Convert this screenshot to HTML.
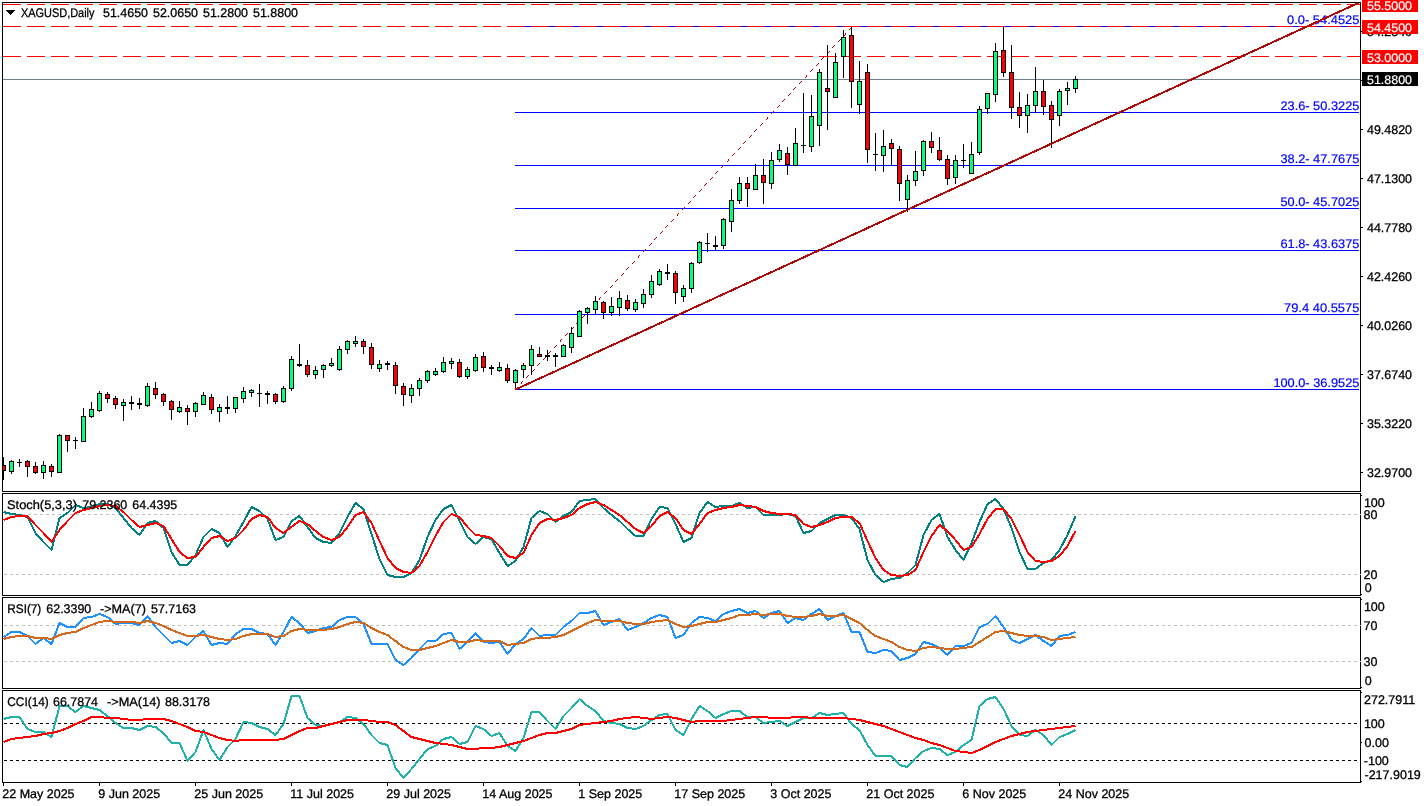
<!DOCTYPE html>
<html lang="en"><head><meta charset="utf-8"><title>XAGUSD Daily</title>
<style>html,body{margin:0;padding:0;background:#fff;overflow:hidden}svg{display:block}</style></head>
<body>
<svg width="1424" height="806" viewBox="0 0 1424 806" shape-rendering="crispEdges" font-family="Liberation Sans, Arial, sans-serif" font-size="12.5" text-rendering="geometricPrecision" stroke-width="0.2">
<defs><clipPath id="mainclip"><rect x="3" y="3" width="1357" height="488"/></clipPath></defs>
<rect x="0" y="0" width="1424" height="806" fill="#fff"/>
<rect x="2" y="2" width="1359" height="1" fill="#000"/>
<rect x="2" y="491" width="1359" height="1" fill="#000"/>
<rect x="2" y="2" width="1" height="490" fill="#000"/>
<rect x="1360" y="2" width="1" height="490" fill="#000"/>
<rect x="2" y="493" width="1359" height="1" fill="#000"/>
<rect x="2" y="595" width="1359" height="1" fill="#000"/>
<rect x="2" y="493" width="1" height="103" fill="#000"/>
<rect x="1360" y="493" width="1" height="103" fill="#000"/>
<rect x="2" y="597" width="1359" height="1" fill="#000"/>
<rect x="2" y="688" width="1359" height="1" fill="#000"/>
<rect x="2" y="597" width="1" height="92" fill="#000"/>
<rect x="1360" y="597" width="1" height="92" fill="#000"/>
<rect x="2" y="690" width="1359" height="1" fill="#000"/>
<rect x="2" y="782" width="1359" height="1" fill="#000"/>
<rect x="2" y="690" width="1" height="93" fill="#000"/>
<rect x="1360" y="690" width="1" height="93" fill="#000"/>
<rect x="3" y="79" width="1357" height="1" fill="#708090"/>
<rect x="515" y="26" width="844" height="1" fill="#0000ff"/>
<rect x="515" y="112" width="844" height="1" fill="#0000ff"/>
<rect x="515" y="165" width="844" height="1" fill="#0000ff"/>
<rect x="515" y="208" width="844" height="1" fill="#0000ff"/>
<rect x="515" y="250" width="844" height="1" fill="#0000ff"/>
<rect x="515" y="314" width="844" height="1" fill="#0000ff"/>
<rect x="515" y="389" width="844" height="1" fill="#0000ff"/>
<rect x="3" y="4" width="18" height="1" fill="#ff0000"/>
<rect x="27" y="4" width="18" height="1" fill="#ff0000"/>
<rect x="51" y="4" width="18" height="1" fill="#ff0000"/>
<rect x="75" y="4" width="18" height="1" fill="#ff0000"/>
<rect x="99" y="4" width="18" height="1" fill="#ff0000"/>
<rect x="123" y="4" width="18" height="1" fill="#ff0000"/>
<rect x="147" y="4" width="18" height="1" fill="#ff0000"/>
<rect x="171" y="4" width="18" height="1" fill="#ff0000"/>
<rect x="195" y="4" width="18" height="1" fill="#ff0000"/>
<rect x="219" y="4" width="18" height="1" fill="#ff0000"/>
<rect x="243" y="4" width="18" height="1" fill="#ff0000"/>
<rect x="267" y="4" width="18" height="1" fill="#ff0000"/>
<rect x="291" y="4" width="18" height="1" fill="#ff0000"/>
<rect x="315" y="4" width="18" height="1" fill="#ff0000"/>
<rect x="339" y="4" width="18" height="1" fill="#ff0000"/>
<rect x="363" y="4" width="18" height="1" fill="#ff0000"/>
<rect x="387" y="4" width="18" height="1" fill="#ff0000"/>
<rect x="411" y="4" width="18" height="1" fill="#ff0000"/>
<rect x="435" y="4" width="18" height="1" fill="#ff0000"/>
<rect x="459" y="4" width="18" height="1" fill="#ff0000"/>
<rect x="483" y="4" width="18" height="1" fill="#ff0000"/>
<rect x="507" y="4" width="18" height="1" fill="#ff0000"/>
<rect x="531" y="4" width="18" height="1" fill="#ff0000"/>
<rect x="555" y="4" width="18" height="1" fill="#ff0000"/>
<rect x="579" y="4" width="18" height="1" fill="#ff0000"/>
<rect x="603" y="4" width="18" height="1" fill="#ff0000"/>
<rect x="627" y="4" width="18" height="1" fill="#ff0000"/>
<rect x="651" y="4" width="18" height="1" fill="#ff0000"/>
<rect x="675" y="4" width="18" height="1" fill="#ff0000"/>
<rect x="699" y="4" width="18" height="1" fill="#ff0000"/>
<rect x="723" y="4" width="18" height="1" fill="#ff0000"/>
<rect x="747" y="4" width="18" height="1" fill="#ff0000"/>
<rect x="771" y="4" width="18" height="1" fill="#ff0000"/>
<rect x="795" y="4" width="18" height="1" fill="#ff0000"/>
<rect x="819" y="4" width="18" height="1" fill="#ff0000"/>
<rect x="843" y="4" width="18" height="1" fill="#ff0000"/>
<rect x="867" y="4" width="18" height="1" fill="#ff0000"/>
<rect x="891" y="4" width="18" height="1" fill="#ff0000"/>
<rect x="915" y="4" width="18" height="1" fill="#ff0000"/>
<rect x="939" y="4" width="18" height="1" fill="#ff0000"/>
<rect x="963" y="4" width="18" height="1" fill="#ff0000"/>
<rect x="987" y="4" width="18" height="1" fill="#ff0000"/>
<rect x="1011" y="4" width="18" height="1" fill="#ff0000"/>
<rect x="1035" y="4" width="18" height="1" fill="#ff0000"/>
<rect x="1059" y="4" width="18" height="1" fill="#ff0000"/>
<rect x="1083" y="4" width="18" height="1" fill="#ff0000"/>
<rect x="1107" y="4" width="18" height="1" fill="#ff0000"/>
<rect x="1131" y="4" width="18" height="1" fill="#ff0000"/>
<rect x="1155" y="4" width="18" height="1" fill="#ff0000"/>
<rect x="1179" y="4" width="18" height="1" fill="#ff0000"/>
<rect x="1203" y="4" width="18" height="1" fill="#ff0000"/>
<rect x="1227" y="4" width="18" height="1" fill="#ff0000"/>
<rect x="1251" y="4" width="18" height="1" fill="#ff0000"/>
<rect x="1275" y="4" width="18" height="1" fill="#ff0000"/>
<rect x="1299" y="4" width="18" height="1" fill="#ff0000"/>
<rect x="1323" y="4" width="18" height="1" fill="#ff0000"/>
<rect x="1347" y="4" width="13" height="1" fill="#ff0000"/>
<rect x="3" y="26" width="18" height="1" fill="#ff0000"/>
<rect x="27" y="26" width="18" height="1" fill="#ff0000"/>
<rect x="51" y="26" width="18" height="1" fill="#ff0000"/>
<rect x="75" y="26" width="18" height="1" fill="#ff0000"/>
<rect x="99" y="26" width="18" height="1" fill="#ff0000"/>
<rect x="123" y="26" width="18" height="1" fill="#ff0000"/>
<rect x="147" y="26" width="18" height="1" fill="#ff0000"/>
<rect x="171" y="26" width="18" height="1" fill="#ff0000"/>
<rect x="195" y="26" width="18" height="1" fill="#ff0000"/>
<rect x="219" y="26" width="18" height="1" fill="#ff0000"/>
<rect x="243" y="26" width="18" height="1" fill="#ff0000"/>
<rect x="267" y="26" width="18" height="1" fill="#ff0000"/>
<rect x="291" y="26" width="18" height="1" fill="#ff0000"/>
<rect x="315" y="26" width="18" height="1" fill="#ff0000"/>
<rect x="339" y="26" width="18" height="1" fill="#ff0000"/>
<rect x="363" y="26" width="18" height="1" fill="#ff0000"/>
<rect x="387" y="26" width="18" height="1" fill="#ff0000"/>
<rect x="411" y="26" width="18" height="1" fill="#ff0000"/>
<rect x="435" y="26" width="18" height="1" fill="#ff0000"/>
<rect x="459" y="26" width="18" height="1" fill="#ff0000"/>
<rect x="483" y="26" width="18" height="1" fill="#ff0000"/>
<rect x="507" y="26" width="18" height="1" fill="#ff0000"/>
<rect x="531" y="26" width="18" height="1" fill="#ff0000"/>
<rect x="555" y="26" width="18" height="1" fill="#ff0000"/>
<rect x="579" y="26" width="18" height="1" fill="#ff0000"/>
<rect x="603" y="26" width="18" height="1" fill="#ff0000"/>
<rect x="627" y="26" width="18" height="1" fill="#ff0000"/>
<rect x="651" y="26" width="18" height="1" fill="#ff0000"/>
<rect x="675" y="26" width="18" height="1" fill="#ff0000"/>
<rect x="699" y="26" width="18" height="1" fill="#ff0000"/>
<rect x="723" y="26" width="18" height="1" fill="#ff0000"/>
<rect x="747" y="26" width="18" height="1" fill="#ff0000"/>
<rect x="771" y="26" width="18" height="1" fill="#ff0000"/>
<rect x="795" y="26" width="18" height="1" fill="#ff0000"/>
<rect x="819" y="26" width="18" height="1" fill="#ff0000"/>
<rect x="843" y="26" width="18" height="1" fill="#ff0000"/>
<rect x="867" y="26" width="18" height="1" fill="#ff0000"/>
<rect x="891" y="26" width="18" height="1" fill="#ff0000"/>
<rect x="915" y="26" width="18" height="1" fill="#ff0000"/>
<rect x="939" y="26" width="18" height="1" fill="#ff0000"/>
<rect x="963" y="26" width="18" height="1" fill="#ff0000"/>
<rect x="987" y="26" width="18" height="1" fill="#ff0000"/>
<rect x="1011" y="26" width="18" height="1" fill="#ff0000"/>
<rect x="1035" y="26" width="18" height="1" fill="#ff0000"/>
<rect x="1059" y="26" width="18" height="1" fill="#ff0000"/>
<rect x="1083" y="26" width="18" height="1" fill="#ff0000"/>
<rect x="1107" y="26" width="18" height="1" fill="#ff0000"/>
<rect x="1131" y="26" width="18" height="1" fill="#ff0000"/>
<rect x="1155" y="26" width="18" height="1" fill="#ff0000"/>
<rect x="1179" y="26" width="18" height="1" fill="#ff0000"/>
<rect x="1203" y="26" width="18" height="1" fill="#ff0000"/>
<rect x="1227" y="26" width="18" height="1" fill="#ff0000"/>
<rect x="1251" y="26" width="18" height="1" fill="#ff0000"/>
<rect x="1275" y="26" width="18" height="1" fill="#ff0000"/>
<rect x="1299" y="26" width="18" height="1" fill="#ff0000"/>
<rect x="1323" y="26" width="18" height="1" fill="#ff0000"/>
<rect x="1347" y="26" width="13" height="1" fill="#ff0000"/>
<rect x="3" y="56" width="18" height="1" fill="#ff0000"/>
<rect x="27" y="56" width="18" height="1" fill="#ff0000"/>
<rect x="51" y="56" width="18" height="1" fill="#ff0000"/>
<rect x="75" y="56" width="18" height="1" fill="#ff0000"/>
<rect x="99" y="56" width="18" height="1" fill="#ff0000"/>
<rect x="123" y="56" width="18" height="1" fill="#ff0000"/>
<rect x="147" y="56" width="18" height="1" fill="#ff0000"/>
<rect x="171" y="56" width="18" height="1" fill="#ff0000"/>
<rect x="195" y="56" width="18" height="1" fill="#ff0000"/>
<rect x="219" y="56" width="18" height="1" fill="#ff0000"/>
<rect x="243" y="56" width="18" height="1" fill="#ff0000"/>
<rect x="267" y="56" width="18" height="1" fill="#ff0000"/>
<rect x="291" y="56" width="18" height="1" fill="#ff0000"/>
<rect x="315" y="56" width="18" height="1" fill="#ff0000"/>
<rect x="339" y="56" width="18" height="1" fill="#ff0000"/>
<rect x="363" y="56" width="18" height="1" fill="#ff0000"/>
<rect x="387" y="56" width="18" height="1" fill="#ff0000"/>
<rect x="411" y="56" width="18" height="1" fill="#ff0000"/>
<rect x="435" y="56" width="18" height="1" fill="#ff0000"/>
<rect x="459" y="56" width="18" height="1" fill="#ff0000"/>
<rect x="483" y="56" width="18" height="1" fill="#ff0000"/>
<rect x="507" y="56" width="18" height="1" fill="#ff0000"/>
<rect x="531" y="56" width="18" height="1" fill="#ff0000"/>
<rect x="555" y="56" width="18" height="1" fill="#ff0000"/>
<rect x="579" y="56" width="18" height="1" fill="#ff0000"/>
<rect x="603" y="56" width="18" height="1" fill="#ff0000"/>
<rect x="627" y="56" width="18" height="1" fill="#ff0000"/>
<rect x="651" y="56" width="18" height="1" fill="#ff0000"/>
<rect x="675" y="56" width="18" height="1" fill="#ff0000"/>
<rect x="699" y="56" width="18" height="1" fill="#ff0000"/>
<rect x="723" y="56" width="18" height="1" fill="#ff0000"/>
<rect x="747" y="56" width="18" height="1" fill="#ff0000"/>
<rect x="771" y="56" width="18" height="1" fill="#ff0000"/>
<rect x="795" y="56" width="18" height="1" fill="#ff0000"/>
<rect x="819" y="56" width="18" height="1" fill="#ff0000"/>
<rect x="843" y="56" width="18" height="1" fill="#ff0000"/>
<rect x="867" y="56" width="18" height="1" fill="#ff0000"/>
<rect x="891" y="56" width="18" height="1" fill="#ff0000"/>
<rect x="915" y="56" width="18" height="1" fill="#ff0000"/>
<rect x="939" y="56" width="18" height="1" fill="#ff0000"/>
<rect x="963" y="56" width="18" height="1" fill="#ff0000"/>
<rect x="987" y="56" width="18" height="1" fill="#ff0000"/>
<rect x="1011" y="56" width="18" height="1" fill="#ff0000"/>
<rect x="1035" y="56" width="18" height="1" fill="#ff0000"/>
<rect x="1059" y="56" width="18" height="1" fill="#ff0000"/>
<rect x="1083" y="56" width="18" height="1" fill="#ff0000"/>
<rect x="1107" y="56" width="18" height="1" fill="#ff0000"/>
<rect x="1131" y="56" width="18" height="1" fill="#ff0000"/>
<rect x="1155" y="56" width="18" height="1" fill="#ff0000"/>
<rect x="1179" y="56" width="18" height="1" fill="#ff0000"/>
<rect x="1203" y="56" width="18" height="1" fill="#ff0000"/>
<rect x="1227" y="56" width="18" height="1" fill="#ff0000"/>
<rect x="1251" y="56" width="18" height="1" fill="#ff0000"/>
<rect x="1275" y="56" width="18" height="1" fill="#ff0000"/>
<rect x="1299" y="56" width="18" height="1" fill="#ff0000"/>
<rect x="1323" y="56" width="18" height="1" fill="#ff0000"/>
<rect x="1347" y="56" width="13" height="1" fill="#ff0000"/>
<rect x="516" y="388" width="1" height="1" fill="#b00808"/>
<rect x="517" y="387" width="1" height="1" fill="#b00808"/>
<rect x="521" y="383" width="1" height="1" fill="#b00808"/>
<rect x="521" y="382" width="1" height="1" fill="#b00808"/>
<rect x="522" y="381" width="1" height="1" fill="#b00808"/>
<rect x="526" y="377" width="1" height="1" fill="#b00808"/>
<rect x="527" y="376" width="1" height="1" fill="#b00808"/>
<rect x="528" y="375" width="1" height="1" fill="#b00808"/>
<rect x="532" y="371" width="1" height="1" fill="#b00808"/>
<rect x="533" y="370" width="1" height="1" fill="#b00808"/>
<rect x="534" y="369" width="1" height="1" fill="#b00808"/>
<rect x="537" y="365" width="1" height="1" fill="#b00808"/>
<rect x="538" y="364" width="1" height="1" fill="#b00808"/>
<rect x="539" y="363" width="1" height="1" fill="#b00808"/>
<rect x="543" y="359" width="1" height="1" fill="#b00808"/>
<rect x="544" y="358" width="1" height="1" fill="#b00808"/>
<rect x="545" y="357" width="1" height="1" fill="#b00808"/>
<rect x="548" y="353" width="1" height="1" fill="#b00808"/>
<rect x="549" y="352" width="1" height="1" fill="#b00808"/>
<rect x="550" y="351" width="1" height="1" fill="#b00808"/>
<rect x="554" y="347" width="1" height="1" fill="#b00808"/>
<rect x="555" y="346" width="1" height="1" fill="#b00808"/>
<rect x="556" y="345" width="1" height="1" fill="#b00808"/>
<rect x="560" y="341" width="1" height="1" fill="#b00808"/>
<rect x="560" y="340" width="1" height="1" fill="#b00808"/>
<rect x="561" y="339" width="1" height="1" fill="#b00808"/>
<rect x="565" y="335" width="1" height="1" fill="#b00808"/>
<rect x="566" y="334" width="1" height="1" fill="#b00808"/>
<rect x="567" y="333" width="1" height="1" fill="#b00808"/>
<rect x="571" y="329" width="1" height="1" fill="#b00808"/>
<rect x="572" y="328" width="1" height="1" fill="#b00808"/>
<rect x="573" y="327" width="1" height="1" fill="#b00808"/>
<rect x="576" y="323" width="1" height="1" fill="#b00808"/>
<rect x="577" y="322" width="1" height="1" fill="#b00808"/>
<rect x="578" y="321" width="1" height="1" fill="#b00808"/>
<rect x="582" y="317" width="1" height="1" fill="#b00808"/>
<rect x="583" y="316" width="1" height="1" fill="#b00808"/>
<rect x="584" y="315" width="1" height="1" fill="#b00808"/>
<rect x="587" y="311" width="1" height="1" fill="#b00808"/>
<rect x="588" y="310" width="1" height="1" fill="#b00808"/>
<rect x="589" y="309" width="1" height="1" fill="#b00808"/>
<rect x="593" y="305" width="1" height="1" fill="#b00808"/>
<rect x="594" y="304" width="1" height="1" fill="#b00808"/>
<rect x="595" y="303" width="1" height="1" fill="#b00808"/>
<rect x="599" y="299" width="1" height="1" fill="#b00808"/>
<rect x="599" y="298" width="1" height="1" fill="#b00808"/>
<rect x="600" y="297" width="1" height="1" fill="#b00808"/>
<rect x="604" y="293" width="1" height="1" fill="#b00808"/>
<rect x="605" y="292" width="1" height="1" fill="#b00808"/>
<rect x="606" y="291" width="1" height="1" fill="#b00808"/>
<rect x="610" y="287" width="1" height="1" fill="#b00808"/>
<rect x="611" y="286" width="1" height="1" fill="#b00808"/>
<rect x="612" y="285" width="1" height="1" fill="#b00808"/>
<rect x="615" y="281" width="1" height="1" fill="#b00808"/>
<rect x="616" y="280" width="1" height="1" fill="#b00808"/>
<rect x="617" y="279" width="1" height="1" fill="#b00808"/>
<rect x="621" y="275" width="1" height="1" fill="#b00808"/>
<rect x="622" y="274" width="1" height="1" fill="#b00808"/>
<rect x="623" y="273" width="1" height="1" fill="#b00808"/>
<rect x="626" y="269" width="1" height="1" fill="#b00808"/>
<rect x="627" y="268" width="1" height="1" fill="#b00808"/>
<rect x="628" y="267" width="1" height="1" fill="#b00808"/>
<rect x="632" y="263" width="1" height="1" fill="#b00808"/>
<rect x="633" y="262" width="1" height="1" fill="#b00808"/>
<rect x="634" y="261" width="1" height="1" fill="#b00808"/>
<rect x="638" y="257" width="1" height="1" fill="#b00808"/>
<rect x="638" y="256" width="1" height="1" fill="#b00808"/>
<rect x="639" y="255" width="1" height="1" fill="#b00808"/>
<rect x="643" y="251" width="1" height="1" fill="#b00808"/>
<rect x="644" y="250" width="1" height="1" fill="#b00808"/>
<rect x="645" y="249" width="1" height="1" fill="#b00808"/>
<rect x="649" y="245" width="1" height="1" fill="#b00808"/>
<rect x="650" y="244" width="1" height="1" fill="#b00808"/>
<rect x="651" y="243" width="1" height="1" fill="#b00808"/>
<rect x="654" y="239" width="1" height="1" fill="#b00808"/>
<rect x="655" y="238" width="1" height="1" fill="#b00808"/>
<rect x="656" y="237" width="1" height="1" fill="#b00808"/>
<rect x="660" y="233" width="1" height="1" fill="#b00808"/>
<rect x="661" y="232" width="1" height="1" fill="#b00808"/>
<rect x="662" y="231" width="1" height="1" fill="#b00808"/>
<rect x="665" y="227" width="1" height="1" fill="#b00808"/>
<rect x="666" y="226" width="1" height="1" fill="#b00808"/>
<rect x="667" y="225" width="1" height="1" fill="#b00808"/>
<rect x="671" y="221" width="1" height="1" fill="#b00808"/>
<rect x="672" y="220" width="1" height="1" fill="#b00808"/>
<rect x="673" y="219" width="1" height="1" fill="#b00808"/>
<rect x="677" y="215" width="1" height="1" fill="#b00808"/>
<rect x="677" y="214" width="1" height="1" fill="#b00808"/>
<rect x="678" y="213" width="1" height="1" fill="#b00808"/>
<rect x="682" y="209" width="1" height="1" fill="#b00808"/>
<rect x="683" y="208" width="1" height="1" fill="#b00808"/>
<rect x="684" y="207" width="1" height="1" fill="#b00808"/>
<rect x="688" y="203" width="1" height="1" fill="#b00808"/>
<rect x="689" y="202" width="1" height="1" fill="#b00808"/>
<rect x="690" y="201" width="1" height="1" fill="#b00808"/>
<rect x="693" y="197" width="1" height="1" fill="#b00808"/>
<rect x="694" y="196" width="1" height="1" fill="#b00808"/>
<rect x="695" y="195" width="1" height="1" fill="#b00808"/>
<rect x="699" y="191" width="1" height="1" fill="#b00808"/>
<rect x="700" y="190" width="1" height="1" fill="#b00808"/>
<rect x="701" y="189" width="1" height="1" fill="#b00808"/>
<rect x="704" y="185" width="1" height="1" fill="#b00808"/>
<rect x="705" y="184" width="1" height="1" fill="#b00808"/>
<rect x="706" y="183" width="1" height="1" fill="#b00808"/>
<rect x="710" y="179" width="1" height="1" fill="#b00808"/>
<rect x="711" y="178" width="1" height="1" fill="#b00808"/>
<rect x="712" y="177" width="1" height="1" fill="#b00808"/>
<rect x="715" y="173" width="1" height="1" fill="#b00808"/>
<rect x="716" y="172" width="1" height="1" fill="#b00808"/>
<rect x="717" y="171" width="1" height="1" fill="#b00808"/>
<rect x="721" y="167" width="1" height="1" fill="#b00808"/>
<rect x="722" y="166" width="1" height="1" fill="#b00808"/>
<rect x="723" y="165" width="1" height="1" fill="#b00808"/>
<rect x="727" y="161" width="1" height="1" fill="#b00808"/>
<rect x="728" y="160" width="1" height="1" fill="#b00808"/>
<rect x="728" y="159" width="1" height="1" fill="#b00808"/>
<rect x="732" y="155" width="1" height="1" fill="#b00808"/>
<rect x="733" y="154" width="1" height="1" fill="#b00808"/>
<rect x="734" y="153" width="1" height="1" fill="#b00808"/>
<rect x="738" y="149" width="1" height="1" fill="#b00808"/>
<rect x="739" y="148" width="1" height="1" fill="#b00808"/>
<rect x="740" y="147" width="1" height="1" fill="#b00808"/>
<rect x="743" y="143" width="1" height="1" fill="#b00808"/>
<rect x="744" y="142" width="1" height="1" fill="#b00808"/>
<rect x="745" y="141" width="1" height="1" fill="#b00808"/>
<rect x="749" y="137" width="1" height="1" fill="#b00808"/>
<rect x="750" y="136" width="1" height="1" fill="#b00808"/>
<rect x="751" y="135" width="1" height="1" fill="#b00808"/>
<rect x="754" y="131" width="1" height="1" fill="#b00808"/>
<rect x="755" y="130" width="1" height="1" fill="#b00808"/>
<rect x="756" y="129" width="1" height="1" fill="#b00808"/>
<rect x="760" y="125" width="1" height="1" fill="#b00808"/>
<rect x="761" y="124" width="1" height="1" fill="#b00808"/>
<rect x="762" y="123" width="1" height="1" fill="#b00808"/>
<rect x="766" y="119" width="1" height="1" fill="#b00808"/>
<rect x="767" y="118" width="1" height="1" fill="#b00808"/>
<rect x="767" y="117" width="1" height="1" fill="#b00808"/>
<rect x="771" y="113" width="1" height="1" fill="#b00808"/>
<rect x="772" y="112" width="1" height="1" fill="#b00808"/>
<rect x="773" y="111" width="1" height="1" fill="#b00808"/>
<rect x="777" y="107" width="1" height="1" fill="#b00808"/>
<rect x="778" y="106" width="1" height="1" fill="#b00808"/>
<rect x="779" y="105" width="1" height="1" fill="#b00808"/>
<rect x="782" y="101" width="1" height="1" fill="#b00808"/>
<rect x="783" y="100" width="1" height="1" fill="#b00808"/>
<rect x="784" y="99" width="1" height="1" fill="#b00808"/>
<rect x="788" y="95" width="1" height="1" fill="#b00808"/>
<rect x="789" y="94" width="1" height="1" fill="#b00808"/>
<rect x="790" y="93" width="1" height="1" fill="#b00808"/>
<rect x="793" y="89" width="1" height="1" fill="#b00808"/>
<rect x="794" y="88" width="1" height="1" fill="#b00808"/>
<rect x="795" y="87" width="1" height="1" fill="#b00808"/>
<rect x="799" y="83" width="1" height="1" fill="#b00808"/>
<rect x="800" y="82" width="1" height="1" fill="#b00808"/>
<rect x="801" y="81" width="1" height="1" fill="#b00808"/>
<rect x="805" y="77" width="1" height="1" fill="#b00808"/>
<rect x="806" y="76" width="1" height="1" fill="#b00808"/>
<rect x="806" y="75" width="1" height="1" fill="#b00808"/>
<rect x="810" y="71" width="1" height="1" fill="#b00808"/>
<rect x="811" y="70" width="1" height="1" fill="#b00808"/>
<rect x="812" y="69" width="1" height="1" fill="#b00808"/>
<rect x="816" y="65" width="1" height="1" fill="#b00808"/>
<rect x="817" y="64" width="1" height="1" fill="#b00808"/>
<rect x="818" y="63" width="1" height="1" fill="#b00808"/>
<rect x="821" y="59" width="1" height="1" fill="#b00808"/>
<rect x="822" y="58" width="1" height="1" fill="#b00808"/>
<rect x="823" y="57" width="1" height="1" fill="#b00808"/>
<rect x="827" y="53" width="1" height="1" fill="#b00808"/>
<rect x="828" y="52" width="1" height="1" fill="#b00808"/>
<rect x="829" y="51" width="1" height="1" fill="#b00808"/>
<rect x="832" y="47" width="1" height="1" fill="#b00808"/>
<rect x="833" y="46" width="1" height="1" fill="#b00808"/>
<rect x="834" y="45" width="1" height="1" fill="#b00808"/>
<rect x="838" y="41" width="1" height="1" fill="#b00808"/>
<rect x="839" y="40" width="1" height="1" fill="#b00808"/>
<rect x="840" y="39" width="1" height="1" fill="#b00808"/>
<rect x="844" y="35" width="1" height="1" fill="#b00808"/>
<rect x="845" y="34" width="1" height="1" fill="#b00808"/>
<rect x="845" y="33" width="1" height="1" fill="#b00808"/>
<rect x="849" y="29" width="1" height="1" fill="#b00808"/>
<rect x="850" y="28" width="1" height="1" fill="#b00808"/>
<rect x="851" y="27" width="1" height="1" fill="#b00808"/>
<g id="candles" clip-path="url(#mainclip)">
<rect x="3" y="457" width="1" height="23" fill="#000"/>
<rect x="1" y="465" width="5" height="6" fill="#000"/>
<rect x="2" y="466" width="3" height="4" fill="#ff0000"/>
<rect x="11" y="460" width="1" height="14" fill="#000"/>
<rect x="9" y="461" width="5" height="11" fill="#000"/>
<rect x="10" y="462" width="3" height="9" fill="#00ff7f"/>
<rect x="19" y="459" width="1" height="8" fill="#000"/>
<rect x="17" y="462" width="5" height="1" fill="#000"/>
<rect x="27" y="460" width="1" height="17" fill="#000"/>
<rect x="25" y="461" width="5" height="6" fill="#000"/>
<rect x="26" y="462" width="3" height="4" fill="#ff0000"/>
<rect x="35" y="462" width="1" height="12" fill="#000"/>
<rect x="33" y="466" width="5" height="7" fill="#000"/>
<rect x="34" y="467" width="3" height="5" fill="#ff0000"/>
<rect x="43" y="461" width="1" height="18" fill="#000"/>
<rect x="41" y="465" width="5" height="8" fill="#000"/>
<rect x="42" y="466" width="3" height="6" fill="#00ff7f"/>
<rect x="51" y="464" width="1" height="13" fill="#000"/>
<rect x="49" y="466" width="5" height="6" fill="#000"/>
<rect x="50" y="467" width="3" height="4" fill="#ff0000"/>
<rect x="59" y="434" width="1" height="39" fill="#000"/>
<rect x="57" y="435" width="5" height="38" fill="#000"/>
<rect x="58" y="436" width="3" height="36" fill="#00ff7f"/>
<rect x="67" y="435" width="1" height="17" fill="#000"/>
<rect x="65" y="435" width="5" height="6" fill="#000"/>
<rect x="66" y="436" width="3" height="4" fill="#ff0000"/>
<rect x="75" y="437" width="1" height="12" fill="#000"/>
<rect x="73" y="440" width="5" height="1" fill="#000"/>
<rect x="83" y="408" width="1" height="34" fill="#000"/>
<rect x="81" y="416" width="5" height="26" fill="#000"/>
<rect x="82" y="417" width="3" height="24" fill="#00ff7f"/>
<rect x="91" y="402" width="1" height="16" fill="#000"/>
<rect x="89" y="409" width="5" height="8" fill="#000"/>
<rect x="90" y="410" width="3" height="6" fill="#00ff7f"/>
<rect x="99" y="391" width="1" height="21" fill="#000"/>
<rect x="97" y="393" width="5" height="18" fill="#000"/>
<rect x="98" y="394" width="3" height="16" fill="#00ff7f"/>
<rect x="107" y="392" width="1" height="11" fill="#000"/>
<rect x="105" y="394" width="5" height="5" fill="#000"/>
<rect x="106" y="395" width="3" height="3" fill="#ff0000"/>
<rect x="115" y="396" width="1" height="13" fill="#000"/>
<rect x="113" y="398" width="5" height="7" fill="#000"/>
<rect x="114" y="399" width="3" height="5" fill="#ff0000"/>
<rect x="123" y="399" width="1" height="22" fill="#000"/>
<rect x="121" y="402" width="5" height="4" fill="#000"/>
<rect x="122" y="403" width="3" height="2" fill="#00ff7f"/>
<rect x="131" y="396" width="1" height="14" fill="#000"/>
<rect x="129" y="402" width="5" height="2" fill="#000"/>
<rect x="139" y="398" width="1" height="11" fill="#000"/>
<rect x="137" y="403" width="5" height="2" fill="#000"/>
<rect x="147" y="383" width="1" height="24" fill="#000"/>
<rect x="145" y="386" width="5" height="20" fill="#000"/>
<rect x="146" y="387" width="3" height="18" fill="#00ff7f"/>
<rect x="155" y="382" width="1" height="17" fill="#000"/>
<rect x="153" y="388" width="5" height="7" fill="#000"/>
<rect x="154" y="389" width="3" height="5" fill="#ff0000"/>
<rect x="163" y="393" width="1" height="13" fill="#000"/>
<rect x="161" y="394" width="5" height="8" fill="#000"/>
<rect x="162" y="395" width="3" height="6" fill="#ff0000"/>
<rect x="171" y="400" width="1" height="20" fill="#000"/>
<rect x="169" y="401" width="5" height="9" fill="#000"/>
<rect x="170" y="402" width="3" height="7" fill="#ff0000"/>
<rect x="179" y="401" width="1" height="12" fill="#000"/>
<rect x="177" y="407" width="5" height="5" fill="#000"/>
<rect x="178" y="408" width="3" height="3" fill="#00ff7f"/>
<rect x="187" y="405" width="1" height="20" fill="#000"/>
<rect x="185" y="408" width="5" height="4" fill="#000"/>
<rect x="186" y="409" width="3" height="2" fill="#ff0000"/>
<rect x="195" y="402" width="1" height="15" fill="#000"/>
<rect x="193" y="403" width="5" height="9" fill="#000"/>
<rect x="194" y="404" width="3" height="7" fill="#00ff7f"/>
<rect x="203" y="392" width="1" height="13" fill="#000"/>
<rect x="201" y="395" width="5" height="10" fill="#000"/>
<rect x="202" y="396" width="3" height="8" fill="#00ff7f"/>
<rect x="211" y="394" width="1" height="20" fill="#000"/>
<rect x="209" y="397" width="5" height="13" fill="#000"/>
<rect x="210" y="398" width="3" height="11" fill="#ff0000"/>
<rect x="219" y="404" width="1" height="18" fill="#000"/>
<rect x="217" y="407" width="5" height="5" fill="#000"/>
<rect x="218" y="408" width="3" height="3" fill="#00ff7f"/>
<rect x="227" y="396" width="1" height="18" fill="#000"/>
<rect x="225" y="407" width="5" height="2" fill="#000"/>
<rect x="235" y="397" width="1" height="16" fill="#000"/>
<rect x="233" y="397" width="5" height="12" fill="#000"/>
<rect x="234" y="398" width="3" height="10" fill="#00ff7f"/>
<rect x="243" y="387" width="1" height="16" fill="#000"/>
<rect x="241" y="391" width="5" height="8" fill="#000"/>
<rect x="242" y="392" width="3" height="6" fill="#00ff7f"/>
<rect x="251" y="389" width="1" height="8" fill="#000"/>
<rect x="249" y="390" width="5" height="3" fill="#000"/>
<rect x="250" y="391" width="3" height="1" fill="#00ff7f"/>
<rect x="259" y="384" width="1" height="23" fill="#000"/>
<rect x="257" y="393" width="5" height="1" fill="#000"/>
<rect x="267" y="391" width="1" height="13" fill="#000"/>
<rect x="265" y="393" width="5" height="2" fill="#000"/>
<rect x="275" y="393" width="1" height="11" fill="#000"/>
<rect x="273" y="394" width="5" height="8" fill="#000"/>
<rect x="274" y="395" width="3" height="6" fill="#ff0000"/>
<rect x="283" y="386" width="1" height="17" fill="#000"/>
<rect x="281" y="388" width="5" height="14" fill="#000"/>
<rect x="282" y="389" width="3" height="12" fill="#00ff7f"/>
<rect x="291" y="356" width="1" height="35" fill="#000"/>
<rect x="289" y="359" width="5" height="30" fill="#000"/>
<rect x="290" y="360" width="3" height="28" fill="#00ff7f"/>
<rect x="299" y="344" width="1" height="23" fill="#000"/>
<rect x="297" y="364" width="5" height="2" fill="#000"/>
<rect x="307" y="360" width="1" height="17" fill="#000"/>
<rect x="305" y="365" width="5" height="10" fill="#000"/>
<rect x="306" y="366" width="3" height="8" fill="#ff0000"/>
<rect x="315" y="366" width="1" height="13" fill="#000"/>
<rect x="313" y="370" width="5" height="5" fill="#000"/>
<rect x="314" y="371" width="3" height="3" fill="#00ff7f"/>
<rect x="323" y="364" width="1" height="14" fill="#000"/>
<rect x="321" y="365" width="5" height="5" fill="#000"/>
<rect x="322" y="366" width="3" height="3" fill="#00ff7f"/>
<rect x="331" y="358" width="1" height="9" fill="#000"/>
<rect x="329" y="363" width="5" height="3" fill="#000"/>
<rect x="330" y="364" width="3" height="1" fill="#00ff7f"/>
<rect x="339" y="346" width="1" height="25" fill="#000"/>
<rect x="337" y="349" width="5" height="21" fill="#000"/>
<rect x="338" y="350" width="3" height="19" fill="#00ff7f"/>
<rect x="347" y="340" width="1" height="14" fill="#000"/>
<rect x="345" y="341" width="5" height="9" fill="#000"/>
<rect x="346" y="342" width="3" height="7" fill="#00ff7f"/>
<rect x="355" y="336" width="1" height="11" fill="#000"/>
<rect x="353" y="341" width="5" height="3" fill="#000"/>
<rect x="354" y="342" width="3" height="1" fill="#00ff7f"/>
<rect x="363" y="339" width="1" height="15" fill="#000"/>
<rect x="361" y="341" width="5" height="6" fill="#000"/>
<rect x="362" y="342" width="3" height="4" fill="#ff0000"/>
<rect x="371" y="343" width="1" height="26" fill="#000"/>
<rect x="369" y="347" width="5" height="18" fill="#000"/>
<rect x="370" y="348" width="3" height="16" fill="#ff0000"/>
<rect x="379" y="360" width="1" height="12" fill="#000"/>
<rect x="377" y="364" width="5" height="5" fill="#000"/>
<rect x="378" y="365" width="3" height="3" fill="#00ff7f"/>
<rect x="387" y="361" width="1" height="9" fill="#000"/>
<rect x="385" y="363" width="5" height="2" fill="#000"/>
<rect x="395" y="362" width="1" height="32" fill="#000"/>
<rect x="393" y="365" width="5" height="21" fill="#000"/>
<rect x="394" y="366" width="3" height="19" fill="#ff0000"/>
<rect x="403" y="383" width="1" height="23" fill="#000"/>
<rect x="401" y="386" width="5" height="9" fill="#000"/>
<rect x="402" y="387" width="3" height="7" fill="#ff0000"/>
<rect x="411" y="384" width="1" height="19" fill="#000"/>
<rect x="409" y="388" width="5" height="8" fill="#000"/>
<rect x="410" y="389" width="3" height="6" fill="#00ff7f"/>
<rect x="419" y="378" width="1" height="18" fill="#000"/>
<rect x="417" y="380" width="5" height="9" fill="#000"/>
<rect x="418" y="381" width="3" height="7" fill="#00ff7f"/>
<rect x="427" y="370" width="1" height="13" fill="#000"/>
<rect x="425" y="371" width="5" height="10" fill="#000"/>
<rect x="426" y="372" width="3" height="8" fill="#00ff7f"/>
<rect x="435" y="368" width="1" height="8" fill="#000"/>
<rect x="433" y="371" width="5" height="4" fill="#000"/>
<rect x="434" y="372" width="3" height="2" fill="#00ff7f"/>
<rect x="443" y="357" width="1" height="16" fill="#000"/>
<rect x="441" y="362" width="5" height="10" fill="#000"/>
<rect x="442" y="363" width="3" height="8" fill="#00ff7f"/>
<rect x="451" y="358" width="1" height="11" fill="#000"/>
<rect x="449" y="361" width="5" height="3" fill="#000"/>
<rect x="450" y="362" width="3" height="1" fill="#00ff7f"/>
<rect x="459" y="359" width="1" height="19" fill="#000"/>
<rect x="457" y="362" width="5" height="15" fill="#000"/>
<rect x="458" y="363" width="3" height="13" fill="#ff0000"/>
<rect x="467" y="367" width="1" height="12" fill="#000"/>
<rect x="465" y="369" width="5" height="8" fill="#000"/>
<rect x="466" y="370" width="3" height="6" fill="#00ff7f"/>
<rect x="475" y="354" width="1" height="18" fill="#000"/>
<rect x="473" y="357" width="5" height="14" fill="#000"/>
<rect x="474" y="358" width="3" height="12" fill="#00ff7f"/>
<rect x="483" y="352" width="1" height="20" fill="#000"/>
<rect x="481" y="356" width="5" height="12" fill="#000"/>
<rect x="482" y="357" width="3" height="10" fill="#ff0000"/>
<rect x="491" y="365" width="1" height="10" fill="#000"/>
<rect x="489" y="367" width="5" height="2" fill="#000"/>
<rect x="499" y="362" width="1" height="10" fill="#000"/>
<rect x="497" y="367" width="5" height="4" fill="#000"/>
<rect x="498" y="368" width="3" height="2" fill="#00ff7f"/>
<rect x="507" y="364" width="1" height="19" fill="#000"/>
<rect x="505" y="368" width="5" height="13" fill="#000"/>
<rect x="506" y="369" width="3" height="11" fill="#ff0000"/>
<rect x="515" y="369" width="1" height="21" fill="#000"/>
<rect x="513" y="370" width="5" height="13" fill="#000"/>
<rect x="514" y="371" width="3" height="11" fill="#00ff7f"/>
<rect x="523" y="363" width="1" height="15" fill="#000"/>
<rect x="521" y="365" width="5" height="5" fill="#000"/>
<rect x="522" y="366" width="3" height="3" fill="#00ff7f"/>
<rect x="531" y="345" width="1" height="30" fill="#000"/>
<rect x="529" y="349" width="5" height="17" fill="#000"/>
<rect x="530" y="350" width="3" height="15" fill="#00ff7f"/>
<rect x="539" y="347" width="1" height="10" fill="#000"/>
<rect x="537" y="354" width="5" height="3" fill="#000"/>
<rect x="538" y="355" width="3" height="1" fill="#ff0000"/>
<rect x="547" y="350" width="1" height="11" fill="#000"/>
<rect x="545" y="355" width="5" height="2" fill="#000"/>
<rect x="555" y="353" width="1" height="14" fill="#000"/>
<rect x="553" y="355" width="5" height="2" fill="#000"/>
<rect x="563" y="344" width="1" height="13" fill="#000"/>
<rect x="561" y="345" width="5" height="12" fill="#000"/>
<rect x="562" y="346" width="3" height="10" fill="#00ff7f"/>
<rect x="571" y="327" width="1" height="26" fill="#000"/>
<rect x="569" y="333" width="5" height="15" fill="#000"/>
<rect x="570" y="334" width="3" height="13" fill="#00ff7f"/>
<rect x="579" y="310" width="1" height="27" fill="#000"/>
<rect x="577" y="311" width="5" height="26" fill="#000"/>
<rect x="578" y="312" width="3" height="24" fill="#00ff7f"/>
<rect x="587" y="307" width="1" height="17" fill="#000"/>
<rect x="585" y="308" width="5" height="5" fill="#000"/>
<rect x="586" y="309" width="3" height="3" fill="#00ff7f"/>
<rect x="595" y="296" width="1" height="18" fill="#000"/>
<rect x="593" y="301" width="5" height="9" fill="#000"/>
<rect x="594" y="302" width="3" height="7" fill="#00ff7f"/>
<rect x="603" y="301" width="1" height="18" fill="#000"/>
<rect x="601" y="302" width="5" height="11" fill="#000"/>
<rect x="602" y="303" width="3" height="9" fill="#ff0000"/>
<rect x="611" y="297" width="1" height="19" fill="#000"/>
<rect x="609" y="306" width="5" height="7" fill="#000"/>
<rect x="610" y="307" width="3" height="5" fill="#00ff7f"/>
<rect x="619" y="291" width="1" height="25" fill="#000"/>
<rect x="617" y="298" width="5" height="10" fill="#000"/>
<rect x="618" y="299" width="3" height="8" fill="#00ff7f"/>
<rect x="627" y="295" width="1" height="16" fill="#000"/>
<rect x="625" y="300" width="5" height="9" fill="#000"/>
<rect x="626" y="301" width="3" height="7" fill="#ff0000"/>
<rect x="635" y="299" width="1" height="13" fill="#000"/>
<rect x="633" y="302" width="5" height="8" fill="#000"/>
<rect x="634" y="303" width="3" height="6" fill="#00ff7f"/>
<rect x="643" y="289" width="1" height="19" fill="#000"/>
<rect x="641" y="294" width="5" height="10" fill="#000"/>
<rect x="642" y="295" width="3" height="8" fill="#00ff7f"/>
<rect x="651" y="275" width="1" height="23" fill="#000"/>
<rect x="649" y="281" width="5" height="14" fill="#000"/>
<rect x="650" y="282" width="3" height="12" fill="#00ff7f"/>
<rect x="659" y="269" width="1" height="17" fill="#000"/>
<rect x="657" y="271" width="5" height="14" fill="#000"/>
<rect x="658" y="272" width="3" height="12" fill="#00ff7f"/>
<rect x="667" y="264" width="1" height="16" fill="#000"/>
<rect x="665" y="272" width="5" height="2" fill="#000"/>
<rect x="675" y="271" width="1" height="33" fill="#000"/>
<rect x="673" y="273" width="5" height="20" fill="#000"/>
<rect x="674" y="274" width="3" height="18" fill="#ff0000"/>
<rect x="683" y="285" width="1" height="17" fill="#000"/>
<rect x="681" y="288" width="5" height="9" fill="#000"/>
<rect x="682" y="289" width="3" height="7" fill="#00ff7f"/>
<rect x="691" y="262" width="1" height="31" fill="#000"/>
<rect x="689" y="263" width="5" height="26" fill="#000"/>
<rect x="690" y="264" width="3" height="24" fill="#00ff7f"/>
<rect x="699" y="241" width="1" height="23" fill="#000"/>
<rect x="697" y="242" width="5" height="21" fill="#000"/>
<rect x="698" y="243" width="3" height="19" fill="#00ff7f"/>
<rect x="707" y="233" width="1" height="19" fill="#000"/>
<rect x="705" y="243" width="5" height="1" fill="#000"/>
<rect x="715" y="236" width="1" height="15" fill="#000"/>
<rect x="713" y="245" width="5" height="2" fill="#000"/>
<rect x="723" y="218" width="1" height="31" fill="#000"/>
<rect x="721" y="219" width="5" height="27" fill="#000"/>
<rect x="722" y="220" width="3" height="25" fill="#00ff7f"/>
<rect x="731" y="189" width="1" height="43" fill="#000"/>
<rect x="729" y="200" width="5" height="22" fill="#000"/>
<rect x="730" y="201" width="3" height="20" fill="#00ff7f"/>
<rect x="739" y="177" width="1" height="27" fill="#000"/>
<rect x="737" y="183" width="5" height="18" fill="#000"/>
<rect x="738" y="184" width="3" height="16" fill="#00ff7f"/>
<rect x="747" y="177" width="1" height="30" fill="#000"/>
<rect x="745" y="183" width="5" height="6" fill="#000"/>
<rect x="746" y="184" width="3" height="4" fill="#ff0000"/>
<rect x="755" y="164" width="1" height="26" fill="#000"/>
<rect x="753" y="175" width="5" height="15" fill="#000"/>
<rect x="754" y="176" width="3" height="13" fill="#00ff7f"/>
<rect x="763" y="159" width="1" height="45" fill="#000"/>
<rect x="761" y="175" width="5" height="8" fill="#000"/>
<rect x="762" y="176" width="3" height="6" fill="#ff0000"/>
<rect x="771" y="152" width="1" height="37" fill="#000"/>
<rect x="769" y="160" width="5" height="24" fill="#000"/>
<rect x="770" y="161" width="3" height="22" fill="#00ff7f"/>
<rect x="779" y="144" width="1" height="18" fill="#000"/>
<rect x="777" y="150" width="5" height="10" fill="#000"/>
<rect x="778" y="151" width="3" height="8" fill="#00ff7f"/>
<rect x="787" y="147" width="1" height="28" fill="#000"/>
<rect x="785" y="153" width="5" height="12" fill="#000"/>
<rect x="786" y="154" width="3" height="10" fill="#ff0000"/>
<rect x="795" y="128" width="1" height="38" fill="#000"/>
<rect x="793" y="143" width="5" height="23" fill="#000"/>
<rect x="794" y="144" width="3" height="21" fill="#00ff7f"/>
<rect x="803" y="93" width="1" height="60" fill="#000"/>
<rect x="801" y="145" width="5" height="1" fill="#000"/>
<rect x="811" y="95" width="1" height="57" fill="#000"/>
<rect x="809" y="116" width="5" height="31" fill="#000"/>
<rect x="810" y="117" width="3" height="29" fill="#00ff7f"/>
<rect x="819" y="69" width="1" height="77" fill="#000"/>
<rect x="817" y="72" width="5" height="54" fill="#000"/>
<rect x="818" y="73" width="3" height="52" fill="#00ff7f"/>
<rect x="827" y="45" width="1" height="85" fill="#000"/>
<rect x="825" y="88" width="5" height="4" fill="#000"/>
<rect x="826" y="89" width="3" height="2" fill="#ff0000"/>
<rect x="835" y="53" width="1" height="45" fill="#000"/>
<rect x="833" y="62" width="5" height="36" fill="#000"/>
<rect x="834" y="63" width="3" height="34" fill="#00ff7f"/>
<rect x="843" y="30" width="1" height="48" fill="#000"/>
<rect x="841" y="37" width="5" height="20" fill="#000"/>
<rect x="842" y="38" width="3" height="18" fill="#00ff7f"/>
<rect x="851" y="27" width="1" height="81" fill="#000"/>
<rect x="849" y="35" width="5" height="47" fill="#000"/>
<rect x="850" y="36" width="3" height="45" fill="#ff0000"/>
<rect x="859" y="61" width="1" height="53" fill="#000"/>
<rect x="857" y="81" width="5" height="24" fill="#000"/>
<rect x="858" y="82" width="3" height="22" fill="#00ff7f"/>
<rect x="867" y="64" width="1" height="99" fill="#000"/>
<rect x="865" y="72" width="5" height="78" fill="#000"/>
<rect x="866" y="73" width="3" height="76" fill="#ff0000"/>
<rect x="875" y="133" width="1" height="38" fill="#000"/>
<rect x="873" y="154" width="5" height="1" fill="#000"/>
<rect x="883" y="130" width="1" height="42" fill="#000"/>
<rect x="881" y="146" width="5" height="10" fill="#000"/>
<rect x="882" y="147" width="3" height="8" fill="#00ff7f"/>
<rect x="891" y="139" width="1" height="26" fill="#000"/>
<rect x="889" y="143" width="5" height="6" fill="#000"/>
<rect x="890" y="144" width="3" height="4" fill="#ff0000"/>
<rect x="899" y="146" width="1" height="55" fill="#000"/>
<rect x="897" y="149" width="5" height="35" fill="#000"/>
<rect x="898" y="150" width="3" height="33" fill="#ff0000"/>
<rect x="907" y="175" width="1" height="37" fill="#000"/>
<rect x="905" y="180" width="5" height="20" fill="#000"/>
<rect x="906" y="181" width="3" height="18" fill="#00ff7f"/>
<rect x="915" y="151" width="1" height="35" fill="#000"/>
<rect x="913" y="171" width="5" height="10" fill="#000"/>
<rect x="914" y="172" width="3" height="8" fill="#00ff7f"/>
<rect x="923" y="140" width="1" height="36" fill="#000"/>
<rect x="921" y="141" width="5" height="30" fill="#000"/>
<rect x="922" y="142" width="3" height="28" fill="#00ff7f"/>
<rect x="931" y="132" width="1" height="21" fill="#000"/>
<rect x="929" y="141" width="5" height="7" fill="#000"/>
<rect x="930" y="142" width="3" height="5" fill="#ff0000"/>
<rect x="939" y="137" width="1" height="24" fill="#000"/>
<rect x="937" y="150" width="5" height="10" fill="#000"/>
<rect x="938" y="151" width="3" height="8" fill="#ff0000"/>
<rect x="947" y="155" width="1" height="30" fill="#000"/>
<rect x="945" y="159" width="5" height="20" fill="#000"/>
<rect x="946" y="160" width="3" height="18" fill="#ff0000"/>
<rect x="955" y="155" width="1" height="29" fill="#000"/>
<rect x="953" y="160" width="5" height="18" fill="#000"/>
<rect x="954" y="161" width="3" height="16" fill="#00ff7f"/>
<rect x="963" y="144" width="1" height="24" fill="#000"/>
<rect x="961" y="160" width="5" height="1" fill="#000"/>
<rect x="971" y="142" width="1" height="32" fill="#000"/>
<rect x="969" y="154" width="5" height="20" fill="#000"/>
<rect x="970" y="155" width="3" height="18" fill="#00ff7f"/>
<rect x="979" y="106" width="1" height="49" fill="#000"/>
<rect x="977" y="109" width="5" height="44" fill="#000"/>
<rect x="978" y="110" width="3" height="42" fill="#00ff7f"/>
<rect x="987" y="93" width="1" height="21" fill="#000"/>
<rect x="985" y="93" width="5" height="16" fill="#000"/>
<rect x="986" y="94" width="3" height="14" fill="#00ff7f"/>
<rect x="995" y="43" width="1" height="59" fill="#000"/>
<rect x="993" y="51" width="5" height="44" fill="#000"/>
<rect x="994" y="52" width="3" height="42" fill="#00ff7f"/>
<rect x="1003" y="27" width="1" height="50" fill="#000"/>
<rect x="1001" y="50" width="5" height="23" fill="#000"/>
<rect x="1002" y="51" width="3" height="21" fill="#ff0000"/>
<rect x="1011" y="45" width="1" height="74" fill="#000"/>
<rect x="1009" y="72" width="5" height="36" fill="#000"/>
<rect x="1010" y="73" width="3" height="34" fill="#ff0000"/>
<rect x="1019" y="92" width="1" height="36" fill="#000"/>
<rect x="1017" y="107" width="5" height="9" fill="#000"/>
<rect x="1018" y="108" width="3" height="7" fill="#ff0000"/>
<rect x="1027" y="94" width="1" height="39" fill="#000"/>
<rect x="1025" y="105" width="5" height="11" fill="#000"/>
<rect x="1026" y="106" width="3" height="9" fill="#00ff7f"/>
<rect x="1035" y="67" width="1" height="45" fill="#000"/>
<rect x="1033" y="91" width="5" height="15" fill="#000"/>
<rect x="1034" y="92" width="3" height="13" fill="#00ff7f"/>
<rect x="1043" y="80" width="1" height="35" fill="#000"/>
<rect x="1041" y="91" width="5" height="16" fill="#000"/>
<rect x="1042" y="92" width="3" height="14" fill="#ff0000"/>
<rect x="1051" y="101" width="1" height="47" fill="#000"/>
<rect x="1049" y="105" width="5" height="15" fill="#000"/>
<rect x="1050" y="106" width="3" height="13" fill="#ff0000"/>
<rect x="1059" y="89" width="1" height="37" fill="#000"/>
<rect x="1057" y="91" width="5" height="25" fill="#000"/>
<rect x="1058" y="92" width="3" height="23" fill="#00ff7f"/>
<rect x="1067" y="82" width="1" height="23" fill="#000"/>
<rect x="1065" y="88" width="5" height="3" fill="#000"/>
<rect x="1066" y="89" width="3" height="1" fill="#00ff7f"/>
<rect x="1075" y="76" width="1" height="17" fill="#000"/>
<rect x="1073" y="79" width="5" height="10" fill="#000"/>
<rect x="1074" y="80" width="3" height="8" fill="#00ff7f"/>
</g>
<text x="1287.0" y="24" fill="#0000ff" stroke="#0000ff" textLength="72.4" lengthAdjust="spacingAndGlyphs">0.0- 54.4525</text>
<text x="1280.4" y="110" fill="#0000ff" stroke="#0000ff" textLength="79" lengthAdjust="spacingAndGlyphs">23.6- 50.3225</text>
<text x="1280.4" y="163" fill="#0000ff" stroke="#0000ff" textLength="79" lengthAdjust="spacingAndGlyphs">38.2- 47.7675</text>
<text x="1280.4" y="206" fill="#0000ff" stroke="#0000ff" textLength="79" lengthAdjust="spacingAndGlyphs">50.0- 45.7025</text>
<text x="1280.4" y="248" fill="#0000ff" stroke="#0000ff" textLength="79" lengthAdjust="spacingAndGlyphs">61.8- 43.6375</text>
<text x="1284.0" y="312" fill="#0000ff" stroke="#0000ff" textLength="75.4" lengthAdjust="spacingAndGlyphs">79.4 40.5575</text>
<text x="1273.4" y="387" fill="#0000ff" stroke="#0000ff" textLength="86" lengthAdjust="spacingAndGlyphs">100.0- 36.9525</text>
<line x1="515.3" y1="389.6" x2="1358.3" y2="2.95" stroke="#b00808" stroke-width="2" shape-rendering="crispEdges"/>
<polygon points="6,10 15.5,10 10.75,15.2" fill="#000"/>
<text x="21" y="17" fill="#000" stroke="#000" stroke-width="0.3" textLength="73.5" lengthAdjust="spacingAndGlyphs">XAGUSD,Daily</text>
<text x="103" y="17" fill="#000" stroke="#000" stroke-width="0.3" textLength="45" lengthAdjust="spacingAndGlyphs">51.4650</text>
<text x="153" y="17" fill="#000" stroke="#000" stroke-width="0.3" textLength="45" lengthAdjust="spacingAndGlyphs">52.0650</text>
<text x="203" y="17" fill="#000" stroke="#000" stroke-width="0.3" textLength="45" lengthAdjust="spacingAndGlyphs">51.2800</text>
<text x="253" y="17" fill="#000" stroke="#000" stroke-width="0.3" textLength="45" lengthAdjust="spacingAndGlyphs">51.8800</text>
<rect x="1361" y="31" width="2" height="1" fill="#000"/>
<text x="1367" y="36" fill="#000" stroke="#000" stroke-width="0.3" textLength="45" lengthAdjust="spacingAndGlyphs">54.2340</text>
<rect x="1361" y="80" width="2" height="1" fill="#000"/>
<text x="1367" y="85" fill="#000" stroke="#000" stroke-width="0.3" textLength="45" lengthAdjust="spacingAndGlyphs">51.8340</text>
<rect x="1361" y="129" width="2" height="1" fill="#000"/>
<text x="1367" y="134" fill="#000" stroke="#000" stroke-width="0.3" textLength="45" lengthAdjust="spacingAndGlyphs">49.4820</text>
<rect x="1361" y="178" width="2" height="1" fill="#000"/>
<text x="1367" y="183" fill="#000" stroke="#000" stroke-width="0.3" textLength="45" lengthAdjust="spacingAndGlyphs">47.1300</text>
<rect x="1361" y="227" width="2" height="1" fill="#000"/>
<text x="1367" y="232" fill="#000" stroke="#000" stroke-width="0.3" textLength="45" lengthAdjust="spacingAndGlyphs">44.7780</text>
<rect x="1361" y="276" width="2" height="1" fill="#000"/>
<text x="1367" y="281" fill="#000" stroke="#000" stroke-width="0.3" textLength="45" lengthAdjust="spacingAndGlyphs">42.4260</text>
<rect x="1361" y="325" width="2" height="1" fill="#000"/>
<text x="1367" y="330" fill="#000" stroke="#000" stroke-width="0.3" textLength="45" lengthAdjust="spacingAndGlyphs">40.0260</text>
<rect x="1361" y="374" width="2" height="1" fill="#000"/>
<text x="1367" y="379" fill="#000" stroke="#000" stroke-width="0.3" textLength="45" lengthAdjust="spacingAndGlyphs">37.6740</text>
<rect x="1361" y="423" width="2" height="1" fill="#000"/>
<text x="1367" y="428" fill="#000" stroke="#000" stroke-width="0.3" textLength="45" lengthAdjust="spacingAndGlyphs">35.3220</text>
<rect x="1361" y="472" width="2" height="1" fill="#000"/>
<text x="1367" y="477" fill="#000" stroke="#000" stroke-width="0.3" textLength="45" lengthAdjust="spacingAndGlyphs">32.9700</text>
<rect x="1362" y="0" width="56" height="12" fill="#ff0000"/>
<text x="1367" y="10" fill="#fff" stroke="#fff" textLength="45" lengthAdjust="spacingAndGlyphs">55.5000</text>
<rect x="1362" y="20" width="56" height="14" fill="#ff0000"/>
<text x="1367" y="32" fill="#fff" stroke="#fff" textLength="45" lengthAdjust="spacingAndGlyphs">54.4500</text>
<rect x="1362" y="50" width="56" height="14" fill="#ff0000"/>
<text x="1367" y="62" fill="#fff" stroke="#fff" textLength="45" lengthAdjust="spacingAndGlyphs">53.0000</text>
<rect x="1362" y="72" width="56" height="14" fill="#000"/>
<text x="1367" y="84" fill="#fff" stroke="#fff" textLength="45" lengthAdjust="spacingAndGlyphs">51.8800</text>
<rect x="4" y="514" width="3" height="1" fill="#c0c0c0"/>
<rect x="10" y="514" width="3" height="1" fill="#c0c0c0"/>
<rect x="16" y="514" width="3" height="1" fill="#c0c0c0"/>
<rect x="22" y="514" width="3" height="1" fill="#c0c0c0"/>
<rect x="28" y="514" width="3" height="1" fill="#c0c0c0"/>
<rect x="34" y="514" width="3" height="1" fill="#c0c0c0"/>
<rect x="40" y="514" width="3" height="1" fill="#c0c0c0"/>
<rect x="46" y="514" width="3" height="1" fill="#c0c0c0"/>
<rect x="52" y="514" width="3" height="1" fill="#c0c0c0"/>
<rect x="58" y="514" width="3" height="1" fill="#c0c0c0"/>
<rect x="64" y="514" width="3" height="1" fill="#c0c0c0"/>
<rect x="70" y="514" width="3" height="1" fill="#c0c0c0"/>
<rect x="76" y="514" width="3" height="1" fill="#c0c0c0"/>
<rect x="82" y="514" width="3" height="1" fill="#c0c0c0"/>
<rect x="88" y="514" width="3" height="1" fill="#c0c0c0"/>
<rect x="94" y="514" width="3" height="1" fill="#c0c0c0"/>
<rect x="100" y="514" width="3" height="1" fill="#c0c0c0"/>
<rect x="106" y="514" width="3" height="1" fill="#c0c0c0"/>
<rect x="112" y="514" width="3" height="1" fill="#c0c0c0"/>
<rect x="118" y="514" width="3" height="1" fill="#c0c0c0"/>
<rect x="124" y="514" width="3" height="1" fill="#c0c0c0"/>
<rect x="130" y="514" width="3" height="1" fill="#c0c0c0"/>
<rect x="136" y="514" width="3" height="1" fill="#c0c0c0"/>
<rect x="142" y="514" width="3" height="1" fill="#c0c0c0"/>
<rect x="148" y="514" width="3" height="1" fill="#c0c0c0"/>
<rect x="154" y="514" width="3" height="1" fill="#c0c0c0"/>
<rect x="160" y="514" width="3" height="1" fill="#c0c0c0"/>
<rect x="166" y="514" width="3" height="1" fill="#c0c0c0"/>
<rect x="172" y="514" width="3" height="1" fill="#c0c0c0"/>
<rect x="178" y="514" width="3" height="1" fill="#c0c0c0"/>
<rect x="184" y="514" width="3" height="1" fill="#c0c0c0"/>
<rect x="190" y="514" width="3" height="1" fill="#c0c0c0"/>
<rect x="196" y="514" width="3" height="1" fill="#c0c0c0"/>
<rect x="202" y="514" width="3" height="1" fill="#c0c0c0"/>
<rect x="208" y="514" width="3" height="1" fill="#c0c0c0"/>
<rect x="214" y="514" width="3" height="1" fill="#c0c0c0"/>
<rect x="220" y="514" width="3" height="1" fill="#c0c0c0"/>
<rect x="226" y="514" width="3" height="1" fill="#c0c0c0"/>
<rect x="232" y="514" width="3" height="1" fill="#c0c0c0"/>
<rect x="238" y="514" width="3" height="1" fill="#c0c0c0"/>
<rect x="244" y="514" width="3" height="1" fill="#c0c0c0"/>
<rect x="250" y="514" width="3" height="1" fill="#c0c0c0"/>
<rect x="256" y="514" width="3" height="1" fill="#c0c0c0"/>
<rect x="262" y="514" width="3" height="1" fill="#c0c0c0"/>
<rect x="268" y="514" width="3" height="1" fill="#c0c0c0"/>
<rect x="274" y="514" width="3" height="1" fill="#c0c0c0"/>
<rect x="280" y="514" width="3" height="1" fill="#c0c0c0"/>
<rect x="286" y="514" width="3" height="1" fill="#c0c0c0"/>
<rect x="292" y="514" width="3" height="1" fill="#c0c0c0"/>
<rect x="298" y="514" width="3" height="1" fill="#c0c0c0"/>
<rect x="304" y="514" width="3" height="1" fill="#c0c0c0"/>
<rect x="310" y="514" width="3" height="1" fill="#c0c0c0"/>
<rect x="316" y="514" width="3" height="1" fill="#c0c0c0"/>
<rect x="322" y="514" width="3" height="1" fill="#c0c0c0"/>
<rect x="328" y="514" width="3" height="1" fill="#c0c0c0"/>
<rect x="334" y="514" width="3" height="1" fill="#c0c0c0"/>
<rect x="340" y="514" width="3" height="1" fill="#c0c0c0"/>
<rect x="346" y="514" width="3" height="1" fill="#c0c0c0"/>
<rect x="352" y="514" width="3" height="1" fill="#c0c0c0"/>
<rect x="358" y="514" width="3" height="1" fill="#c0c0c0"/>
<rect x="364" y="514" width="3" height="1" fill="#c0c0c0"/>
<rect x="370" y="514" width="3" height="1" fill="#c0c0c0"/>
<rect x="376" y="514" width="3" height="1" fill="#c0c0c0"/>
<rect x="382" y="514" width="3" height="1" fill="#c0c0c0"/>
<rect x="388" y="514" width="3" height="1" fill="#c0c0c0"/>
<rect x="394" y="514" width="3" height="1" fill="#c0c0c0"/>
<rect x="400" y="514" width="3" height="1" fill="#c0c0c0"/>
<rect x="406" y="514" width="3" height="1" fill="#c0c0c0"/>
<rect x="412" y="514" width="3" height="1" fill="#c0c0c0"/>
<rect x="418" y="514" width="3" height="1" fill="#c0c0c0"/>
<rect x="424" y="514" width="3" height="1" fill="#c0c0c0"/>
<rect x="430" y="514" width="3" height="1" fill="#c0c0c0"/>
<rect x="436" y="514" width="3" height="1" fill="#c0c0c0"/>
<rect x="442" y="514" width="3" height="1" fill="#c0c0c0"/>
<rect x="448" y="514" width="3" height="1" fill="#c0c0c0"/>
<rect x="454" y="514" width="3" height="1" fill="#c0c0c0"/>
<rect x="460" y="514" width="3" height="1" fill="#c0c0c0"/>
<rect x="466" y="514" width="3" height="1" fill="#c0c0c0"/>
<rect x="472" y="514" width="3" height="1" fill="#c0c0c0"/>
<rect x="478" y="514" width="3" height="1" fill="#c0c0c0"/>
<rect x="484" y="514" width="3" height="1" fill="#c0c0c0"/>
<rect x="490" y="514" width="3" height="1" fill="#c0c0c0"/>
<rect x="496" y="514" width="3" height="1" fill="#c0c0c0"/>
<rect x="502" y="514" width="3" height="1" fill="#c0c0c0"/>
<rect x="508" y="514" width="3" height="1" fill="#c0c0c0"/>
<rect x="514" y="514" width="3" height="1" fill="#c0c0c0"/>
<rect x="520" y="514" width="3" height="1" fill="#c0c0c0"/>
<rect x="526" y="514" width="3" height="1" fill="#c0c0c0"/>
<rect x="532" y="514" width="3" height="1" fill="#c0c0c0"/>
<rect x="538" y="514" width="3" height="1" fill="#c0c0c0"/>
<rect x="544" y="514" width="3" height="1" fill="#c0c0c0"/>
<rect x="550" y="514" width="3" height="1" fill="#c0c0c0"/>
<rect x="556" y="514" width="3" height="1" fill="#c0c0c0"/>
<rect x="562" y="514" width="3" height="1" fill="#c0c0c0"/>
<rect x="568" y="514" width="3" height="1" fill="#c0c0c0"/>
<rect x="574" y="514" width="3" height="1" fill="#c0c0c0"/>
<rect x="580" y="514" width="3" height="1" fill="#c0c0c0"/>
<rect x="586" y="514" width="3" height="1" fill="#c0c0c0"/>
<rect x="592" y="514" width="3" height="1" fill="#c0c0c0"/>
<rect x="598" y="514" width="3" height="1" fill="#c0c0c0"/>
<rect x="604" y="514" width="3" height="1" fill="#c0c0c0"/>
<rect x="610" y="514" width="3" height="1" fill="#c0c0c0"/>
<rect x="616" y="514" width="3" height="1" fill="#c0c0c0"/>
<rect x="622" y="514" width="3" height="1" fill="#c0c0c0"/>
<rect x="628" y="514" width="3" height="1" fill="#c0c0c0"/>
<rect x="634" y="514" width="3" height="1" fill="#c0c0c0"/>
<rect x="640" y="514" width="3" height="1" fill="#c0c0c0"/>
<rect x="646" y="514" width="3" height="1" fill="#c0c0c0"/>
<rect x="652" y="514" width="3" height="1" fill="#c0c0c0"/>
<rect x="658" y="514" width="3" height="1" fill="#c0c0c0"/>
<rect x="664" y="514" width="3" height="1" fill="#c0c0c0"/>
<rect x="670" y="514" width="3" height="1" fill="#c0c0c0"/>
<rect x="676" y="514" width="3" height="1" fill="#c0c0c0"/>
<rect x="682" y="514" width="3" height="1" fill="#c0c0c0"/>
<rect x="688" y="514" width="3" height="1" fill="#c0c0c0"/>
<rect x="694" y="514" width="3" height="1" fill="#c0c0c0"/>
<rect x="700" y="514" width="3" height="1" fill="#c0c0c0"/>
<rect x="706" y="514" width="3" height="1" fill="#c0c0c0"/>
<rect x="712" y="514" width="3" height="1" fill="#c0c0c0"/>
<rect x="718" y="514" width="3" height="1" fill="#c0c0c0"/>
<rect x="724" y="514" width="3" height="1" fill="#c0c0c0"/>
<rect x="730" y="514" width="3" height="1" fill="#c0c0c0"/>
<rect x="736" y="514" width="3" height="1" fill="#c0c0c0"/>
<rect x="742" y="514" width="3" height="1" fill="#c0c0c0"/>
<rect x="748" y="514" width="3" height="1" fill="#c0c0c0"/>
<rect x="754" y="514" width="3" height="1" fill="#c0c0c0"/>
<rect x="760" y="514" width="3" height="1" fill="#c0c0c0"/>
<rect x="766" y="514" width="3" height="1" fill="#c0c0c0"/>
<rect x="772" y="514" width="3" height="1" fill="#c0c0c0"/>
<rect x="778" y="514" width="3" height="1" fill="#c0c0c0"/>
<rect x="784" y="514" width="3" height="1" fill="#c0c0c0"/>
<rect x="790" y="514" width="3" height="1" fill="#c0c0c0"/>
<rect x="796" y="514" width="3" height="1" fill="#c0c0c0"/>
<rect x="802" y="514" width="3" height="1" fill="#c0c0c0"/>
<rect x="808" y="514" width="3" height="1" fill="#c0c0c0"/>
<rect x="814" y="514" width="3" height="1" fill="#c0c0c0"/>
<rect x="820" y="514" width="3" height="1" fill="#c0c0c0"/>
<rect x="826" y="514" width="3" height="1" fill="#c0c0c0"/>
<rect x="832" y="514" width="3" height="1" fill="#c0c0c0"/>
<rect x="838" y="514" width="3" height="1" fill="#c0c0c0"/>
<rect x="844" y="514" width="3" height="1" fill="#c0c0c0"/>
<rect x="850" y="514" width="3" height="1" fill="#c0c0c0"/>
<rect x="856" y="514" width="3" height="1" fill="#c0c0c0"/>
<rect x="862" y="514" width="3" height="1" fill="#c0c0c0"/>
<rect x="868" y="514" width="3" height="1" fill="#c0c0c0"/>
<rect x="874" y="514" width="3" height="1" fill="#c0c0c0"/>
<rect x="880" y="514" width="3" height="1" fill="#c0c0c0"/>
<rect x="886" y="514" width="3" height="1" fill="#c0c0c0"/>
<rect x="892" y="514" width="3" height="1" fill="#c0c0c0"/>
<rect x="898" y="514" width="3" height="1" fill="#c0c0c0"/>
<rect x="904" y="514" width="3" height="1" fill="#c0c0c0"/>
<rect x="910" y="514" width="3" height="1" fill="#c0c0c0"/>
<rect x="916" y="514" width="3" height="1" fill="#c0c0c0"/>
<rect x="922" y="514" width="3" height="1" fill="#c0c0c0"/>
<rect x="928" y="514" width="3" height="1" fill="#c0c0c0"/>
<rect x="934" y="514" width="3" height="1" fill="#c0c0c0"/>
<rect x="940" y="514" width="3" height="1" fill="#c0c0c0"/>
<rect x="946" y="514" width="3" height="1" fill="#c0c0c0"/>
<rect x="952" y="514" width="3" height="1" fill="#c0c0c0"/>
<rect x="958" y="514" width="3" height="1" fill="#c0c0c0"/>
<rect x="964" y="514" width="3" height="1" fill="#c0c0c0"/>
<rect x="970" y="514" width="3" height="1" fill="#c0c0c0"/>
<rect x="976" y="514" width="3" height="1" fill="#c0c0c0"/>
<rect x="982" y="514" width="3" height="1" fill="#c0c0c0"/>
<rect x="988" y="514" width="3" height="1" fill="#c0c0c0"/>
<rect x="994" y="514" width="3" height="1" fill="#c0c0c0"/>
<rect x="1000" y="514" width="3" height="1" fill="#c0c0c0"/>
<rect x="1006" y="514" width="3" height="1" fill="#c0c0c0"/>
<rect x="1012" y="514" width="3" height="1" fill="#c0c0c0"/>
<rect x="1018" y="514" width="3" height="1" fill="#c0c0c0"/>
<rect x="1024" y="514" width="3" height="1" fill="#c0c0c0"/>
<rect x="1030" y="514" width="3" height="1" fill="#c0c0c0"/>
<rect x="1036" y="514" width="3" height="1" fill="#c0c0c0"/>
<rect x="1042" y="514" width="3" height="1" fill="#c0c0c0"/>
<rect x="1048" y="514" width="3" height="1" fill="#c0c0c0"/>
<rect x="1054" y="514" width="3" height="1" fill="#c0c0c0"/>
<rect x="1060" y="514" width="3" height="1" fill="#c0c0c0"/>
<rect x="1066" y="514" width="3" height="1" fill="#c0c0c0"/>
<rect x="1072" y="514" width="3" height="1" fill="#c0c0c0"/>
<rect x="1078" y="514" width="3" height="1" fill="#c0c0c0"/>
<rect x="1084" y="514" width="3" height="1" fill="#c0c0c0"/>
<rect x="1090" y="514" width="3" height="1" fill="#c0c0c0"/>
<rect x="1096" y="514" width="3" height="1" fill="#c0c0c0"/>
<rect x="1102" y="514" width="3" height="1" fill="#c0c0c0"/>
<rect x="1108" y="514" width="3" height="1" fill="#c0c0c0"/>
<rect x="1114" y="514" width="3" height="1" fill="#c0c0c0"/>
<rect x="1120" y="514" width="3" height="1" fill="#c0c0c0"/>
<rect x="1126" y="514" width="3" height="1" fill="#c0c0c0"/>
<rect x="1132" y="514" width="3" height="1" fill="#c0c0c0"/>
<rect x="1138" y="514" width="3" height="1" fill="#c0c0c0"/>
<rect x="1144" y="514" width="3" height="1" fill="#c0c0c0"/>
<rect x="1150" y="514" width="3" height="1" fill="#c0c0c0"/>
<rect x="1156" y="514" width="3" height="1" fill="#c0c0c0"/>
<rect x="1162" y="514" width="3" height="1" fill="#c0c0c0"/>
<rect x="1168" y="514" width="3" height="1" fill="#c0c0c0"/>
<rect x="1174" y="514" width="3" height="1" fill="#c0c0c0"/>
<rect x="1180" y="514" width="3" height="1" fill="#c0c0c0"/>
<rect x="1186" y="514" width="3" height="1" fill="#c0c0c0"/>
<rect x="1192" y="514" width="3" height="1" fill="#c0c0c0"/>
<rect x="1198" y="514" width="3" height="1" fill="#c0c0c0"/>
<rect x="1204" y="514" width="3" height="1" fill="#c0c0c0"/>
<rect x="1210" y="514" width="3" height="1" fill="#c0c0c0"/>
<rect x="1216" y="514" width="3" height="1" fill="#c0c0c0"/>
<rect x="1222" y="514" width="3" height="1" fill="#c0c0c0"/>
<rect x="1228" y="514" width="3" height="1" fill="#c0c0c0"/>
<rect x="1234" y="514" width="3" height="1" fill="#c0c0c0"/>
<rect x="1240" y="514" width="3" height="1" fill="#c0c0c0"/>
<rect x="1246" y="514" width="3" height="1" fill="#c0c0c0"/>
<rect x="1252" y="514" width="3" height="1" fill="#c0c0c0"/>
<rect x="1258" y="514" width="3" height="1" fill="#c0c0c0"/>
<rect x="1264" y="514" width="3" height="1" fill="#c0c0c0"/>
<rect x="1270" y="514" width="3" height="1" fill="#c0c0c0"/>
<rect x="1276" y="514" width="3" height="1" fill="#c0c0c0"/>
<rect x="1282" y="514" width="3" height="1" fill="#c0c0c0"/>
<rect x="1288" y="514" width="3" height="1" fill="#c0c0c0"/>
<rect x="1294" y="514" width="3" height="1" fill="#c0c0c0"/>
<rect x="1300" y="514" width="3" height="1" fill="#c0c0c0"/>
<rect x="1306" y="514" width="3" height="1" fill="#c0c0c0"/>
<rect x="1312" y="514" width="3" height="1" fill="#c0c0c0"/>
<rect x="1318" y="514" width="3" height="1" fill="#c0c0c0"/>
<rect x="1324" y="514" width="3" height="1" fill="#c0c0c0"/>
<rect x="1330" y="514" width="3" height="1" fill="#c0c0c0"/>
<rect x="1336" y="514" width="3" height="1" fill="#c0c0c0"/>
<rect x="1342" y="514" width="3" height="1" fill="#c0c0c0"/>
<rect x="1348" y="514" width="3" height="1" fill="#c0c0c0"/>
<rect x="1354" y="514" width="3" height="1" fill="#c0c0c0"/>
<rect x="1360" y="514" width="1" height="1" fill="#c0c0c0"/>
<rect x="4" y="574" width="3" height="1" fill="#c0c0c0"/>
<rect x="10" y="574" width="3" height="1" fill="#c0c0c0"/>
<rect x="16" y="574" width="3" height="1" fill="#c0c0c0"/>
<rect x="22" y="574" width="3" height="1" fill="#c0c0c0"/>
<rect x="28" y="574" width="3" height="1" fill="#c0c0c0"/>
<rect x="34" y="574" width="3" height="1" fill="#c0c0c0"/>
<rect x="40" y="574" width="3" height="1" fill="#c0c0c0"/>
<rect x="46" y="574" width="3" height="1" fill="#c0c0c0"/>
<rect x="52" y="574" width="3" height="1" fill="#c0c0c0"/>
<rect x="58" y="574" width="3" height="1" fill="#c0c0c0"/>
<rect x="64" y="574" width="3" height="1" fill="#c0c0c0"/>
<rect x="70" y="574" width="3" height="1" fill="#c0c0c0"/>
<rect x="76" y="574" width="3" height="1" fill="#c0c0c0"/>
<rect x="82" y="574" width="3" height="1" fill="#c0c0c0"/>
<rect x="88" y="574" width="3" height="1" fill="#c0c0c0"/>
<rect x="94" y="574" width="3" height="1" fill="#c0c0c0"/>
<rect x="100" y="574" width="3" height="1" fill="#c0c0c0"/>
<rect x="106" y="574" width="3" height="1" fill="#c0c0c0"/>
<rect x="112" y="574" width="3" height="1" fill="#c0c0c0"/>
<rect x="118" y="574" width="3" height="1" fill="#c0c0c0"/>
<rect x="124" y="574" width="3" height="1" fill="#c0c0c0"/>
<rect x="130" y="574" width="3" height="1" fill="#c0c0c0"/>
<rect x="136" y="574" width="3" height="1" fill="#c0c0c0"/>
<rect x="142" y="574" width="3" height="1" fill="#c0c0c0"/>
<rect x="148" y="574" width="3" height="1" fill="#c0c0c0"/>
<rect x="154" y="574" width="3" height="1" fill="#c0c0c0"/>
<rect x="160" y="574" width="3" height="1" fill="#c0c0c0"/>
<rect x="166" y="574" width="3" height="1" fill="#c0c0c0"/>
<rect x="172" y="574" width="3" height="1" fill="#c0c0c0"/>
<rect x="178" y="574" width="3" height="1" fill="#c0c0c0"/>
<rect x="184" y="574" width="3" height="1" fill="#c0c0c0"/>
<rect x="190" y="574" width="3" height="1" fill="#c0c0c0"/>
<rect x="196" y="574" width="3" height="1" fill="#c0c0c0"/>
<rect x="202" y="574" width="3" height="1" fill="#c0c0c0"/>
<rect x="208" y="574" width="3" height="1" fill="#c0c0c0"/>
<rect x="214" y="574" width="3" height="1" fill="#c0c0c0"/>
<rect x="220" y="574" width="3" height="1" fill="#c0c0c0"/>
<rect x="226" y="574" width="3" height="1" fill="#c0c0c0"/>
<rect x="232" y="574" width="3" height="1" fill="#c0c0c0"/>
<rect x="238" y="574" width="3" height="1" fill="#c0c0c0"/>
<rect x="244" y="574" width="3" height="1" fill="#c0c0c0"/>
<rect x="250" y="574" width="3" height="1" fill="#c0c0c0"/>
<rect x="256" y="574" width="3" height="1" fill="#c0c0c0"/>
<rect x="262" y="574" width="3" height="1" fill="#c0c0c0"/>
<rect x="268" y="574" width="3" height="1" fill="#c0c0c0"/>
<rect x="274" y="574" width="3" height="1" fill="#c0c0c0"/>
<rect x="280" y="574" width="3" height="1" fill="#c0c0c0"/>
<rect x="286" y="574" width="3" height="1" fill="#c0c0c0"/>
<rect x="292" y="574" width="3" height="1" fill="#c0c0c0"/>
<rect x="298" y="574" width="3" height="1" fill="#c0c0c0"/>
<rect x="304" y="574" width="3" height="1" fill="#c0c0c0"/>
<rect x="310" y="574" width="3" height="1" fill="#c0c0c0"/>
<rect x="316" y="574" width="3" height="1" fill="#c0c0c0"/>
<rect x="322" y="574" width="3" height="1" fill="#c0c0c0"/>
<rect x="328" y="574" width="3" height="1" fill="#c0c0c0"/>
<rect x="334" y="574" width="3" height="1" fill="#c0c0c0"/>
<rect x="340" y="574" width="3" height="1" fill="#c0c0c0"/>
<rect x="346" y="574" width="3" height="1" fill="#c0c0c0"/>
<rect x="352" y="574" width="3" height="1" fill="#c0c0c0"/>
<rect x="358" y="574" width="3" height="1" fill="#c0c0c0"/>
<rect x="364" y="574" width="3" height="1" fill="#c0c0c0"/>
<rect x="370" y="574" width="3" height="1" fill="#c0c0c0"/>
<rect x="376" y="574" width="3" height="1" fill="#c0c0c0"/>
<rect x="382" y="574" width="3" height="1" fill="#c0c0c0"/>
<rect x="388" y="574" width="3" height="1" fill="#c0c0c0"/>
<rect x="394" y="574" width="3" height="1" fill="#c0c0c0"/>
<rect x="400" y="574" width="3" height="1" fill="#c0c0c0"/>
<rect x="406" y="574" width="3" height="1" fill="#c0c0c0"/>
<rect x="412" y="574" width="3" height="1" fill="#c0c0c0"/>
<rect x="418" y="574" width="3" height="1" fill="#c0c0c0"/>
<rect x="424" y="574" width="3" height="1" fill="#c0c0c0"/>
<rect x="430" y="574" width="3" height="1" fill="#c0c0c0"/>
<rect x="436" y="574" width="3" height="1" fill="#c0c0c0"/>
<rect x="442" y="574" width="3" height="1" fill="#c0c0c0"/>
<rect x="448" y="574" width="3" height="1" fill="#c0c0c0"/>
<rect x="454" y="574" width="3" height="1" fill="#c0c0c0"/>
<rect x="460" y="574" width="3" height="1" fill="#c0c0c0"/>
<rect x="466" y="574" width="3" height="1" fill="#c0c0c0"/>
<rect x="472" y="574" width="3" height="1" fill="#c0c0c0"/>
<rect x="478" y="574" width="3" height="1" fill="#c0c0c0"/>
<rect x="484" y="574" width="3" height="1" fill="#c0c0c0"/>
<rect x="490" y="574" width="3" height="1" fill="#c0c0c0"/>
<rect x="496" y="574" width="3" height="1" fill="#c0c0c0"/>
<rect x="502" y="574" width="3" height="1" fill="#c0c0c0"/>
<rect x="508" y="574" width="3" height="1" fill="#c0c0c0"/>
<rect x="514" y="574" width="3" height="1" fill="#c0c0c0"/>
<rect x="520" y="574" width="3" height="1" fill="#c0c0c0"/>
<rect x="526" y="574" width="3" height="1" fill="#c0c0c0"/>
<rect x="532" y="574" width="3" height="1" fill="#c0c0c0"/>
<rect x="538" y="574" width="3" height="1" fill="#c0c0c0"/>
<rect x="544" y="574" width="3" height="1" fill="#c0c0c0"/>
<rect x="550" y="574" width="3" height="1" fill="#c0c0c0"/>
<rect x="556" y="574" width="3" height="1" fill="#c0c0c0"/>
<rect x="562" y="574" width="3" height="1" fill="#c0c0c0"/>
<rect x="568" y="574" width="3" height="1" fill="#c0c0c0"/>
<rect x="574" y="574" width="3" height="1" fill="#c0c0c0"/>
<rect x="580" y="574" width="3" height="1" fill="#c0c0c0"/>
<rect x="586" y="574" width="3" height="1" fill="#c0c0c0"/>
<rect x="592" y="574" width="3" height="1" fill="#c0c0c0"/>
<rect x="598" y="574" width="3" height="1" fill="#c0c0c0"/>
<rect x="604" y="574" width="3" height="1" fill="#c0c0c0"/>
<rect x="610" y="574" width="3" height="1" fill="#c0c0c0"/>
<rect x="616" y="574" width="3" height="1" fill="#c0c0c0"/>
<rect x="622" y="574" width="3" height="1" fill="#c0c0c0"/>
<rect x="628" y="574" width="3" height="1" fill="#c0c0c0"/>
<rect x="634" y="574" width="3" height="1" fill="#c0c0c0"/>
<rect x="640" y="574" width="3" height="1" fill="#c0c0c0"/>
<rect x="646" y="574" width="3" height="1" fill="#c0c0c0"/>
<rect x="652" y="574" width="3" height="1" fill="#c0c0c0"/>
<rect x="658" y="574" width="3" height="1" fill="#c0c0c0"/>
<rect x="664" y="574" width="3" height="1" fill="#c0c0c0"/>
<rect x="670" y="574" width="3" height="1" fill="#c0c0c0"/>
<rect x="676" y="574" width="3" height="1" fill="#c0c0c0"/>
<rect x="682" y="574" width="3" height="1" fill="#c0c0c0"/>
<rect x="688" y="574" width="3" height="1" fill="#c0c0c0"/>
<rect x="694" y="574" width="3" height="1" fill="#c0c0c0"/>
<rect x="700" y="574" width="3" height="1" fill="#c0c0c0"/>
<rect x="706" y="574" width="3" height="1" fill="#c0c0c0"/>
<rect x="712" y="574" width="3" height="1" fill="#c0c0c0"/>
<rect x="718" y="574" width="3" height="1" fill="#c0c0c0"/>
<rect x="724" y="574" width="3" height="1" fill="#c0c0c0"/>
<rect x="730" y="574" width="3" height="1" fill="#c0c0c0"/>
<rect x="736" y="574" width="3" height="1" fill="#c0c0c0"/>
<rect x="742" y="574" width="3" height="1" fill="#c0c0c0"/>
<rect x="748" y="574" width="3" height="1" fill="#c0c0c0"/>
<rect x="754" y="574" width="3" height="1" fill="#c0c0c0"/>
<rect x="760" y="574" width="3" height="1" fill="#c0c0c0"/>
<rect x="766" y="574" width="3" height="1" fill="#c0c0c0"/>
<rect x="772" y="574" width="3" height="1" fill="#c0c0c0"/>
<rect x="778" y="574" width="3" height="1" fill="#c0c0c0"/>
<rect x="784" y="574" width="3" height="1" fill="#c0c0c0"/>
<rect x="790" y="574" width="3" height="1" fill="#c0c0c0"/>
<rect x="796" y="574" width="3" height="1" fill="#c0c0c0"/>
<rect x="802" y="574" width="3" height="1" fill="#c0c0c0"/>
<rect x="808" y="574" width="3" height="1" fill="#c0c0c0"/>
<rect x="814" y="574" width="3" height="1" fill="#c0c0c0"/>
<rect x="820" y="574" width="3" height="1" fill="#c0c0c0"/>
<rect x="826" y="574" width="3" height="1" fill="#c0c0c0"/>
<rect x="832" y="574" width="3" height="1" fill="#c0c0c0"/>
<rect x="838" y="574" width="3" height="1" fill="#c0c0c0"/>
<rect x="844" y="574" width="3" height="1" fill="#c0c0c0"/>
<rect x="850" y="574" width="3" height="1" fill="#c0c0c0"/>
<rect x="856" y="574" width="3" height="1" fill="#c0c0c0"/>
<rect x="862" y="574" width="3" height="1" fill="#c0c0c0"/>
<rect x="868" y="574" width="3" height="1" fill="#c0c0c0"/>
<rect x="874" y="574" width="3" height="1" fill="#c0c0c0"/>
<rect x="880" y="574" width="3" height="1" fill="#c0c0c0"/>
<rect x="886" y="574" width="3" height="1" fill="#c0c0c0"/>
<rect x="892" y="574" width="3" height="1" fill="#c0c0c0"/>
<rect x="898" y="574" width="3" height="1" fill="#c0c0c0"/>
<rect x="904" y="574" width="3" height="1" fill="#c0c0c0"/>
<rect x="910" y="574" width="3" height="1" fill="#c0c0c0"/>
<rect x="916" y="574" width="3" height="1" fill="#c0c0c0"/>
<rect x="922" y="574" width="3" height="1" fill="#c0c0c0"/>
<rect x="928" y="574" width="3" height="1" fill="#c0c0c0"/>
<rect x="934" y="574" width="3" height="1" fill="#c0c0c0"/>
<rect x="940" y="574" width="3" height="1" fill="#c0c0c0"/>
<rect x="946" y="574" width="3" height="1" fill="#c0c0c0"/>
<rect x="952" y="574" width="3" height="1" fill="#c0c0c0"/>
<rect x="958" y="574" width="3" height="1" fill="#c0c0c0"/>
<rect x="964" y="574" width="3" height="1" fill="#c0c0c0"/>
<rect x="970" y="574" width="3" height="1" fill="#c0c0c0"/>
<rect x="976" y="574" width="3" height="1" fill="#c0c0c0"/>
<rect x="982" y="574" width="3" height="1" fill="#c0c0c0"/>
<rect x="988" y="574" width="3" height="1" fill="#c0c0c0"/>
<rect x="994" y="574" width="3" height="1" fill="#c0c0c0"/>
<rect x="1000" y="574" width="3" height="1" fill="#c0c0c0"/>
<rect x="1006" y="574" width="3" height="1" fill="#c0c0c0"/>
<rect x="1012" y="574" width="3" height="1" fill="#c0c0c0"/>
<rect x="1018" y="574" width="3" height="1" fill="#c0c0c0"/>
<rect x="1024" y="574" width="3" height="1" fill="#c0c0c0"/>
<rect x="1030" y="574" width="3" height="1" fill="#c0c0c0"/>
<rect x="1036" y="574" width="3" height="1" fill="#c0c0c0"/>
<rect x="1042" y="574" width="3" height="1" fill="#c0c0c0"/>
<rect x="1048" y="574" width="3" height="1" fill="#c0c0c0"/>
<rect x="1054" y="574" width="3" height="1" fill="#c0c0c0"/>
<rect x="1060" y="574" width="3" height="1" fill="#c0c0c0"/>
<rect x="1066" y="574" width="3" height="1" fill="#c0c0c0"/>
<rect x="1072" y="574" width="3" height="1" fill="#c0c0c0"/>
<rect x="1078" y="574" width="3" height="1" fill="#c0c0c0"/>
<rect x="1084" y="574" width="3" height="1" fill="#c0c0c0"/>
<rect x="1090" y="574" width="3" height="1" fill="#c0c0c0"/>
<rect x="1096" y="574" width="3" height="1" fill="#c0c0c0"/>
<rect x="1102" y="574" width="3" height="1" fill="#c0c0c0"/>
<rect x="1108" y="574" width="3" height="1" fill="#c0c0c0"/>
<rect x="1114" y="574" width="3" height="1" fill="#c0c0c0"/>
<rect x="1120" y="574" width="3" height="1" fill="#c0c0c0"/>
<rect x="1126" y="574" width="3" height="1" fill="#c0c0c0"/>
<rect x="1132" y="574" width="3" height="1" fill="#c0c0c0"/>
<rect x="1138" y="574" width="3" height="1" fill="#c0c0c0"/>
<rect x="1144" y="574" width="3" height="1" fill="#c0c0c0"/>
<rect x="1150" y="574" width="3" height="1" fill="#c0c0c0"/>
<rect x="1156" y="574" width="3" height="1" fill="#c0c0c0"/>
<rect x="1162" y="574" width="3" height="1" fill="#c0c0c0"/>
<rect x="1168" y="574" width="3" height="1" fill="#c0c0c0"/>
<rect x="1174" y="574" width="3" height="1" fill="#c0c0c0"/>
<rect x="1180" y="574" width="3" height="1" fill="#c0c0c0"/>
<rect x="1186" y="574" width="3" height="1" fill="#c0c0c0"/>
<rect x="1192" y="574" width="3" height="1" fill="#c0c0c0"/>
<rect x="1198" y="574" width="3" height="1" fill="#c0c0c0"/>
<rect x="1204" y="574" width="3" height="1" fill="#c0c0c0"/>
<rect x="1210" y="574" width="3" height="1" fill="#c0c0c0"/>
<rect x="1216" y="574" width="3" height="1" fill="#c0c0c0"/>
<rect x="1222" y="574" width="3" height="1" fill="#c0c0c0"/>
<rect x="1228" y="574" width="3" height="1" fill="#c0c0c0"/>
<rect x="1234" y="574" width="3" height="1" fill="#c0c0c0"/>
<rect x="1240" y="574" width="3" height="1" fill="#c0c0c0"/>
<rect x="1246" y="574" width="3" height="1" fill="#c0c0c0"/>
<rect x="1252" y="574" width="3" height="1" fill="#c0c0c0"/>
<rect x="1258" y="574" width="3" height="1" fill="#c0c0c0"/>
<rect x="1264" y="574" width="3" height="1" fill="#c0c0c0"/>
<rect x="1270" y="574" width="3" height="1" fill="#c0c0c0"/>
<rect x="1276" y="574" width="3" height="1" fill="#c0c0c0"/>
<rect x="1282" y="574" width="3" height="1" fill="#c0c0c0"/>
<rect x="1288" y="574" width="3" height="1" fill="#c0c0c0"/>
<rect x="1294" y="574" width="3" height="1" fill="#c0c0c0"/>
<rect x="1300" y="574" width="3" height="1" fill="#c0c0c0"/>
<rect x="1306" y="574" width="3" height="1" fill="#c0c0c0"/>
<rect x="1312" y="574" width="3" height="1" fill="#c0c0c0"/>
<rect x="1318" y="574" width="3" height="1" fill="#c0c0c0"/>
<rect x="1324" y="574" width="3" height="1" fill="#c0c0c0"/>
<rect x="1330" y="574" width="3" height="1" fill="#c0c0c0"/>
<rect x="1336" y="574" width="3" height="1" fill="#c0c0c0"/>
<rect x="1342" y="574" width="3" height="1" fill="#c0c0c0"/>
<rect x="1348" y="574" width="3" height="1" fill="#c0c0c0"/>
<rect x="1354" y="574" width="3" height="1" fill="#c0c0c0"/>
<rect x="1360" y="574" width="1" height="1" fill="#c0c0c0"/>
<rect x="4" y="625" width="3" height="1" fill="#c0c0c0"/>
<rect x="10" y="625" width="3" height="1" fill="#c0c0c0"/>
<rect x="16" y="625" width="3" height="1" fill="#c0c0c0"/>
<rect x="22" y="625" width="3" height="1" fill="#c0c0c0"/>
<rect x="28" y="625" width="3" height="1" fill="#c0c0c0"/>
<rect x="34" y="625" width="3" height="1" fill="#c0c0c0"/>
<rect x="40" y="625" width="3" height="1" fill="#c0c0c0"/>
<rect x="46" y="625" width="3" height="1" fill="#c0c0c0"/>
<rect x="52" y="625" width="3" height="1" fill="#c0c0c0"/>
<rect x="58" y="625" width="3" height="1" fill="#c0c0c0"/>
<rect x="64" y="625" width="3" height="1" fill="#c0c0c0"/>
<rect x="70" y="625" width="3" height="1" fill="#c0c0c0"/>
<rect x="76" y="625" width="3" height="1" fill="#c0c0c0"/>
<rect x="82" y="625" width="3" height="1" fill="#c0c0c0"/>
<rect x="88" y="625" width="3" height="1" fill="#c0c0c0"/>
<rect x="94" y="625" width="3" height="1" fill="#c0c0c0"/>
<rect x="100" y="625" width="3" height="1" fill="#c0c0c0"/>
<rect x="106" y="625" width="3" height="1" fill="#c0c0c0"/>
<rect x="112" y="625" width="3" height="1" fill="#c0c0c0"/>
<rect x="118" y="625" width="3" height="1" fill="#c0c0c0"/>
<rect x="124" y="625" width="3" height="1" fill="#c0c0c0"/>
<rect x="130" y="625" width="3" height="1" fill="#c0c0c0"/>
<rect x="136" y="625" width="3" height="1" fill="#c0c0c0"/>
<rect x="142" y="625" width="3" height="1" fill="#c0c0c0"/>
<rect x="148" y="625" width="3" height="1" fill="#c0c0c0"/>
<rect x="154" y="625" width="3" height="1" fill="#c0c0c0"/>
<rect x="160" y="625" width="3" height="1" fill="#c0c0c0"/>
<rect x="166" y="625" width="3" height="1" fill="#c0c0c0"/>
<rect x="172" y="625" width="3" height="1" fill="#c0c0c0"/>
<rect x="178" y="625" width="3" height="1" fill="#c0c0c0"/>
<rect x="184" y="625" width="3" height="1" fill="#c0c0c0"/>
<rect x="190" y="625" width="3" height="1" fill="#c0c0c0"/>
<rect x="196" y="625" width="3" height="1" fill="#c0c0c0"/>
<rect x="202" y="625" width="3" height="1" fill="#c0c0c0"/>
<rect x="208" y="625" width="3" height="1" fill="#c0c0c0"/>
<rect x="214" y="625" width="3" height="1" fill="#c0c0c0"/>
<rect x="220" y="625" width="3" height="1" fill="#c0c0c0"/>
<rect x="226" y="625" width="3" height="1" fill="#c0c0c0"/>
<rect x="232" y="625" width="3" height="1" fill="#c0c0c0"/>
<rect x="238" y="625" width="3" height="1" fill="#c0c0c0"/>
<rect x="244" y="625" width="3" height="1" fill="#c0c0c0"/>
<rect x="250" y="625" width="3" height="1" fill="#c0c0c0"/>
<rect x="256" y="625" width="3" height="1" fill="#c0c0c0"/>
<rect x="262" y="625" width="3" height="1" fill="#c0c0c0"/>
<rect x="268" y="625" width="3" height="1" fill="#c0c0c0"/>
<rect x="274" y="625" width="3" height="1" fill="#c0c0c0"/>
<rect x="280" y="625" width="3" height="1" fill="#c0c0c0"/>
<rect x="286" y="625" width="3" height="1" fill="#c0c0c0"/>
<rect x="292" y="625" width="3" height="1" fill="#c0c0c0"/>
<rect x="298" y="625" width="3" height="1" fill="#c0c0c0"/>
<rect x="304" y="625" width="3" height="1" fill="#c0c0c0"/>
<rect x="310" y="625" width="3" height="1" fill="#c0c0c0"/>
<rect x="316" y="625" width="3" height="1" fill="#c0c0c0"/>
<rect x="322" y="625" width="3" height="1" fill="#c0c0c0"/>
<rect x="328" y="625" width="3" height="1" fill="#c0c0c0"/>
<rect x="334" y="625" width="3" height="1" fill="#c0c0c0"/>
<rect x="340" y="625" width="3" height="1" fill="#c0c0c0"/>
<rect x="346" y="625" width="3" height="1" fill="#c0c0c0"/>
<rect x="352" y="625" width="3" height="1" fill="#c0c0c0"/>
<rect x="358" y="625" width="3" height="1" fill="#c0c0c0"/>
<rect x="364" y="625" width="3" height="1" fill="#c0c0c0"/>
<rect x="370" y="625" width="3" height="1" fill="#c0c0c0"/>
<rect x="376" y="625" width="3" height="1" fill="#c0c0c0"/>
<rect x="382" y="625" width="3" height="1" fill="#c0c0c0"/>
<rect x="388" y="625" width="3" height="1" fill="#c0c0c0"/>
<rect x="394" y="625" width="3" height="1" fill="#c0c0c0"/>
<rect x="400" y="625" width="3" height="1" fill="#c0c0c0"/>
<rect x="406" y="625" width="3" height="1" fill="#c0c0c0"/>
<rect x="412" y="625" width="3" height="1" fill="#c0c0c0"/>
<rect x="418" y="625" width="3" height="1" fill="#c0c0c0"/>
<rect x="424" y="625" width="3" height="1" fill="#c0c0c0"/>
<rect x="430" y="625" width="3" height="1" fill="#c0c0c0"/>
<rect x="436" y="625" width="3" height="1" fill="#c0c0c0"/>
<rect x="442" y="625" width="3" height="1" fill="#c0c0c0"/>
<rect x="448" y="625" width="3" height="1" fill="#c0c0c0"/>
<rect x="454" y="625" width="3" height="1" fill="#c0c0c0"/>
<rect x="460" y="625" width="3" height="1" fill="#c0c0c0"/>
<rect x="466" y="625" width="3" height="1" fill="#c0c0c0"/>
<rect x="472" y="625" width="3" height="1" fill="#c0c0c0"/>
<rect x="478" y="625" width="3" height="1" fill="#c0c0c0"/>
<rect x="484" y="625" width="3" height="1" fill="#c0c0c0"/>
<rect x="490" y="625" width="3" height="1" fill="#c0c0c0"/>
<rect x="496" y="625" width="3" height="1" fill="#c0c0c0"/>
<rect x="502" y="625" width="3" height="1" fill="#c0c0c0"/>
<rect x="508" y="625" width="3" height="1" fill="#c0c0c0"/>
<rect x="514" y="625" width="3" height="1" fill="#c0c0c0"/>
<rect x="520" y="625" width="3" height="1" fill="#c0c0c0"/>
<rect x="526" y="625" width="3" height="1" fill="#c0c0c0"/>
<rect x="532" y="625" width="3" height="1" fill="#c0c0c0"/>
<rect x="538" y="625" width="3" height="1" fill="#c0c0c0"/>
<rect x="544" y="625" width="3" height="1" fill="#c0c0c0"/>
<rect x="550" y="625" width="3" height="1" fill="#c0c0c0"/>
<rect x="556" y="625" width="3" height="1" fill="#c0c0c0"/>
<rect x="562" y="625" width="3" height="1" fill="#c0c0c0"/>
<rect x="568" y="625" width="3" height="1" fill="#c0c0c0"/>
<rect x="574" y="625" width="3" height="1" fill="#c0c0c0"/>
<rect x="580" y="625" width="3" height="1" fill="#c0c0c0"/>
<rect x="586" y="625" width="3" height="1" fill="#c0c0c0"/>
<rect x="592" y="625" width="3" height="1" fill="#c0c0c0"/>
<rect x="598" y="625" width="3" height="1" fill="#c0c0c0"/>
<rect x="604" y="625" width="3" height="1" fill="#c0c0c0"/>
<rect x="610" y="625" width="3" height="1" fill="#c0c0c0"/>
<rect x="616" y="625" width="3" height="1" fill="#c0c0c0"/>
<rect x="622" y="625" width="3" height="1" fill="#c0c0c0"/>
<rect x="628" y="625" width="3" height="1" fill="#c0c0c0"/>
<rect x="634" y="625" width="3" height="1" fill="#c0c0c0"/>
<rect x="640" y="625" width="3" height="1" fill="#c0c0c0"/>
<rect x="646" y="625" width="3" height="1" fill="#c0c0c0"/>
<rect x="652" y="625" width="3" height="1" fill="#c0c0c0"/>
<rect x="658" y="625" width="3" height="1" fill="#c0c0c0"/>
<rect x="664" y="625" width="3" height="1" fill="#c0c0c0"/>
<rect x="670" y="625" width="3" height="1" fill="#c0c0c0"/>
<rect x="676" y="625" width="3" height="1" fill="#c0c0c0"/>
<rect x="682" y="625" width="3" height="1" fill="#c0c0c0"/>
<rect x="688" y="625" width="3" height="1" fill="#c0c0c0"/>
<rect x="694" y="625" width="3" height="1" fill="#c0c0c0"/>
<rect x="700" y="625" width="3" height="1" fill="#c0c0c0"/>
<rect x="706" y="625" width="3" height="1" fill="#c0c0c0"/>
<rect x="712" y="625" width="3" height="1" fill="#c0c0c0"/>
<rect x="718" y="625" width="3" height="1" fill="#c0c0c0"/>
<rect x="724" y="625" width="3" height="1" fill="#c0c0c0"/>
<rect x="730" y="625" width="3" height="1" fill="#c0c0c0"/>
<rect x="736" y="625" width="3" height="1" fill="#c0c0c0"/>
<rect x="742" y="625" width="3" height="1" fill="#c0c0c0"/>
<rect x="748" y="625" width="3" height="1" fill="#c0c0c0"/>
<rect x="754" y="625" width="3" height="1" fill="#c0c0c0"/>
<rect x="760" y="625" width="3" height="1" fill="#c0c0c0"/>
<rect x="766" y="625" width="3" height="1" fill="#c0c0c0"/>
<rect x="772" y="625" width="3" height="1" fill="#c0c0c0"/>
<rect x="778" y="625" width="3" height="1" fill="#c0c0c0"/>
<rect x="784" y="625" width="3" height="1" fill="#c0c0c0"/>
<rect x="790" y="625" width="3" height="1" fill="#c0c0c0"/>
<rect x="796" y="625" width="3" height="1" fill="#c0c0c0"/>
<rect x="802" y="625" width="3" height="1" fill="#c0c0c0"/>
<rect x="808" y="625" width="3" height="1" fill="#c0c0c0"/>
<rect x="814" y="625" width="3" height="1" fill="#c0c0c0"/>
<rect x="820" y="625" width="3" height="1" fill="#c0c0c0"/>
<rect x="826" y="625" width="3" height="1" fill="#c0c0c0"/>
<rect x="832" y="625" width="3" height="1" fill="#c0c0c0"/>
<rect x="838" y="625" width="3" height="1" fill="#c0c0c0"/>
<rect x="844" y="625" width="3" height="1" fill="#c0c0c0"/>
<rect x="850" y="625" width="3" height="1" fill="#c0c0c0"/>
<rect x="856" y="625" width="3" height="1" fill="#c0c0c0"/>
<rect x="862" y="625" width="3" height="1" fill="#c0c0c0"/>
<rect x="868" y="625" width="3" height="1" fill="#c0c0c0"/>
<rect x="874" y="625" width="3" height="1" fill="#c0c0c0"/>
<rect x="880" y="625" width="3" height="1" fill="#c0c0c0"/>
<rect x="886" y="625" width="3" height="1" fill="#c0c0c0"/>
<rect x="892" y="625" width="3" height="1" fill="#c0c0c0"/>
<rect x="898" y="625" width="3" height="1" fill="#c0c0c0"/>
<rect x="904" y="625" width="3" height="1" fill="#c0c0c0"/>
<rect x="910" y="625" width="3" height="1" fill="#c0c0c0"/>
<rect x="916" y="625" width="3" height="1" fill="#c0c0c0"/>
<rect x="922" y="625" width="3" height="1" fill="#c0c0c0"/>
<rect x="928" y="625" width="3" height="1" fill="#c0c0c0"/>
<rect x="934" y="625" width="3" height="1" fill="#c0c0c0"/>
<rect x="940" y="625" width="3" height="1" fill="#c0c0c0"/>
<rect x="946" y="625" width="3" height="1" fill="#c0c0c0"/>
<rect x="952" y="625" width="3" height="1" fill="#c0c0c0"/>
<rect x="958" y="625" width="3" height="1" fill="#c0c0c0"/>
<rect x="964" y="625" width="3" height="1" fill="#c0c0c0"/>
<rect x="970" y="625" width="3" height="1" fill="#c0c0c0"/>
<rect x="976" y="625" width="3" height="1" fill="#c0c0c0"/>
<rect x="982" y="625" width="3" height="1" fill="#c0c0c0"/>
<rect x="988" y="625" width="3" height="1" fill="#c0c0c0"/>
<rect x="994" y="625" width="3" height="1" fill="#c0c0c0"/>
<rect x="1000" y="625" width="3" height="1" fill="#c0c0c0"/>
<rect x="1006" y="625" width="3" height="1" fill="#c0c0c0"/>
<rect x="1012" y="625" width="3" height="1" fill="#c0c0c0"/>
<rect x="1018" y="625" width="3" height="1" fill="#c0c0c0"/>
<rect x="1024" y="625" width="3" height="1" fill="#c0c0c0"/>
<rect x="1030" y="625" width="3" height="1" fill="#c0c0c0"/>
<rect x="1036" y="625" width="3" height="1" fill="#c0c0c0"/>
<rect x="1042" y="625" width="3" height="1" fill="#c0c0c0"/>
<rect x="1048" y="625" width="3" height="1" fill="#c0c0c0"/>
<rect x="1054" y="625" width="3" height="1" fill="#c0c0c0"/>
<rect x="1060" y="625" width="3" height="1" fill="#c0c0c0"/>
<rect x="1066" y="625" width="3" height="1" fill="#c0c0c0"/>
<rect x="1072" y="625" width="3" height="1" fill="#c0c0c0"/>
<rect x="1078" y="625" width="3" height="1" fill="#c0c0c0"/>
<rect x="1084" y="625" width="3" height="1" fill="#c0c0c0"/>
<rect x="1090" y="625" width="3" height="1" fill="#c0c0c0"/>
<rect x="1096" y="625" width="3" height="1" fill="#c0c0c0"/>
<rect x="1102" y="625" width="3" height="1" fill="#c0c0c0"/>
<rect x="1108" y="625" width="3" height="1" fill="#c0c0c0"/>
<rect x="1114" y="625" width="3" height="1" fill="#c0c0c0"/>
<rect x="1120" y="625" width="3" height="1" fill="#c0c0c0"/>
<rect x="1126" y="625" width="3" height="1" fill="#c0c0c0"/>
<rect x="1132" y="625" width="3" height="1" fill="#c0c0c0"/>
<rect x="1138" y="625" width="3" height="1" fill="#c0c0c0"/>
<rect x="1144" y="625" width="3" height="1" fill="#c0c0c0"/>
<rect x="1150" y="625" width="3" height="1" fill="#c0c0c0"/>
<rect x="1156" y="625" width="3" height="1" fill="#c0c0c0"/>
<rect x="1162" y="625" width="3" height="1" fill="#c0c0c0"/>
<rect x="1168" y="625" width="3" height="1" fill="#c0c0c0"/>
<rect x="1174" y="625" width="3" height="1" fill="#c0c0c0"/>
<rect x="1180" y="625" width="3" height="1" fill="#c0c0c0"/>
<rect x="1186" y="625" width="3" height="1" fill="#c0c0c0"/>
<rect x="1192" y="625" width="3" height="1" fill="#c0c0c0"/>
<rect x="1198" y="625" width="3" height="1" fill="#c0c0c0"/>
<rect x="1204" y="625" width="3" height="1" fill="#c0c0c0"/>
<rect x="1210" y="625" width="3" height="1" fill="#c0c0c0"/>
<rect x="1216" y="625" width="3" height="1" fill="#c0c0c0"/>
<rect x="1222" y="625" width="3" height="1" fill="#c0c0c0"/>
<rect x="1228" y="625" width="3" height="1" fill="#c0c0c0"/>
<rect x="1234" y="625" width="3" height="1" fill="#c0c0c0"/>
<rect x="1240" y="625" width="3" height="1" fill="#c0c0c0"/>
<rect x="1246" y="625" width="3" height="1" fill="#c0c0c0"/>
<rect x="1252" y="625" width="3" height="1" fill="#c0c0c0"/>
<rect x="1258" y="625" width="3" height="1" fill="#c0c0c0"/>
<rect x="1264" y="625" width="3" height="1" fill="#c0c0c0"/>
<rect x="1270" y="625" width="3" height="1" fill="#c0c0c0"/>
<rect x="1276" y="625" width="3" height="1" fill="#c0c0c0"/>
<rect x="1282" y="625" width="3" height="1" fill="#c0c0c0"/>
<rect x="1288" y="625" width="3" height="1" fill="#c0c0c0"/>
<rect x="1294" y="625" width="3" height="1" fill="#c0c0c0"/>
<rect x="1300" y="625" width="3" height="1" fill="#c0c0c0"/>
<rect x="1306" y="625" width="3" height="1" fill="#c0c0c0"/>
<rect x="1312" y="625" width="3" height="1" fill="#c0c0c0"/>
<rect x="1318" y="625" width="3" height="1" fill="#c0c0c0"/>
<rect x="1324" y="625" width="3" height="1" fill="#c0c0c0"/>
<rect x="1330" y="625" width="3" height="1" fill="#c0c0c0"/>
<rect x="1336" y="625" width="3" height="1" fill="#c0c0c0"/>
<rect x="1342" y="625" width="3" height="1" fill="#c0c0c0"/>
<rect x="1348" y="625" width="3" height="1" fill="#c0c0c0"/>
<rect x="1354" y="625" width="3" height="1" fill="#c0c0c0"/>
<rect x="1360" y="625" width="1" height="1" fill="#c0c0c0"/>
<rect x="4" y="661" width="3" height="1" fill="#c0c0c0"/>
<rect x="10" y="661" width="3" height="1" fill="#c0c0c0"/>
<rect x="16" y="661" width="3" height="1" fill="#c0c0c0"/>
<rect x="22" y="661" width="3" height="1" fill="#c0c0c0"/>
<rect x="28" y="661" width="3" height="1" fill="#c0c0c0"/>
<rect x="34" y="661" width="3" height="1" fill="#c0c0c0"/>
<rect x="40" y="661" width="3" height="1" fill="#c0c0c0"/>
<rect x="46" y="661" width="3" height="1" fill="#c0c0c0"/>
<rect x="52" y="661" width="3" height="1" fill="#c0c0c0"/>
<rect x="58" y="661" width="3" height="1" fill="#c0c0c0"/>
<rect x="64" y="661" width="3" height="1" fill="#c0c0c0"/>
<rect x="70" y="661" width="3" height="1" fill="#c0c0c0"/>
<rect x="76" y="661" width="3" height="1" fill="#c0c0c0"/>
<rect x="82" y="661" width="3" height="1" fill="#c0c0c0"/>
<rect x="88" y="661" width="3" height="1" fill="#c0c0c0"/>
<rect x="94" y="661" width="3" height="1" fill="#c0c0c0"/>
<rect x="100" y="661" width="3" height="1" fill="#c0c0c0"/>
<rect x="106" y="661" width="3" height="1" fill="#c0c0c0"/>
<rect x="112" y="661" width="3" height="1" fill="#c0c0c0"/>
<rect x="118" y="661" width="3" height="1" fill="#c0c0c0"/>
<rect x="124" y="661" width="3" height="1" fill="#c0c0c0"/>
<rect x="130" y="661" width="3" height="1" fill="#c0c0c0"/>
<rect x="136" y="661" width="3" height="1" fill="#c0c0c0"/>
<rect x="142" y="661" width="3" height="1" fill="#c0c0c0"/>
<rect x="148" y="661" width="3" height="1" fill="#c0c0c0"/>
<rect x="154" y="661" width="3" height="1" fill="#c0c0c0"/>
<rect x="160" y="661" width="3" height="1" fill="#c0c0c0"/>
<rect x="166" y="661" width="3" height="1" fill="#c0c0c0"/>
<rect x="172" y="661" width="3" height="1" fill="#c0c0c0"/>
<rect x="178" y="661" width="3" height="1" fill="#c0c0c0"/>
<rect x="184" y="661" width="3" height="1" fill="#c0c0c0"/>
<rect x="190" y="661" width="3" height="1" fill="#c0c0c0"/>
<rect x="196" y="661" width="3" height="1" fill="#c0c0c0"/>
<rect x="202" y="661" width="3" height="1" fill="#c0c0c0"/>
<rect x="208" y="661" width="3" height="1" fill="#c0c0c0"/>
<rect x="214" y="661" width="3" height="1" fill="#c0c0c0"/>
<rect x="220" y="661" width="3" height="1" fill="#c0c0c0"/>
<rect x="226" y="661" width="3" height="1" fill="#c0c0c0"/>
<rect x="232" y="661" width="3" height="1" fill="#c0c0c0"/>
<rect x="238" y="661" width="3" height="1" fill="#c0c0c0"/>
<rect x="244" y="661" width="3" height="1" fill="#c0c0c0"/>
<rect x="250" y="661" width="3" height="1" fill="#c0c0c0"/>
<rect x="256" y="661" width="3" height="1" fill="#c0c0c0"/>
<rect x="262" y="661" width="3" height="1" fill="#c0c0c0"/>
<rect x="268" y="661" width="3" height="1" fill="#c0c0c0"/>
<rect x="274" y="661" width="3" height="1" fill="#c0c0c0"/>
<rect x="280" y="661" width="3" height="1" fill="#c0c0c0"/>
<rect x="286" y="661" width="3" height="1" fill="#c0c0c0"/>
<rect x="292" y="661" width="3" height="1" fill="#c0c0c0"/>
<rect x="298" y="661" width="3" height="1" fill="#c0c0c0"/>
<rect x="304" y="661" width="3" height="1" fill="#c0c0c0"/>
<rect x="310" y="661" width="3" height="1" fill="#c0c0c0"/>
<rect x="316" y="661" width="3" height="1" fill="#c0c0c0"/>
<rect x="322" y="661" width="3" height="1" fill="#c0c0c0"/>
<rect x="328" y="661" width="3" height="1" fill="#c0c0c0"/>
<rect x="334" y="661" width="3" height="1" fill="#c0c0c0"/>
<rect x="340" y="661" width="3" height="1" fill="#c0c0c0"/>
<rect x="346" y="661" width="3" height="1" fill="#c0c0c0"/>
<rect x="352" y="661" width="3" height="1" fill="#c0c0c0"/>
<rect x="358" y="661" width="3" height="1" fill="#c0c0c0"/>
<rect x="364" y="661" width="3" height="1" fill="#c0c0c0"/>
<rect x="370" y="661" width="3" height="1" fill="#c0c0c0"/>
<rect x="376" y="661" width="3" height="1" fill="#c0c0c0"/>
<rect x="382" y="661" width="3" height="1" fill="#c0c0c0"/>
<rect x="388" y="661" width="3" height="1" fill="#c0c0c0"/>
<rect x="394" y="661" width="3" height="1" fill="#c0c0c0"/>
<rect x="400" y="661" width="3" height="1" fill="#c0c0c0"/>
<rect x="406" y="661" width="3" height="1" fill="#c0c0c0"/>
<rect x="412" y="661" width="3" height="1" fill="#c0c0c0"/>
<rect x="418" y="661" width="3" height="1" fill="#c0c0c0"/>
<rect x="424" y="661" width="3" height="1" fill="#c0c0c0"/>
<rect x="430" y="661" width="3" height="1" fill="#c0c0c0"/>
<rect x="436" y="661" width="3" height="1" fill="#c0c0c0"/>
<rect x="442" y="661" width="3" height="1" fill="#c0c0c0"/>
<rect x="448" y="661" width="3" height="1" fill="#c0c0c0"/>
<rect x="454" y="661" width="3" height="1" fill="#c0c0c0"/>
<rect x="460" y="661" width="3" height="1" fill="#c0c0c0"/>
<rect x="466" y="661" width="3" height="1" fill="#c0c0c0"/>
<rect x="472" y="661" width="3" height="1" fill="#c0c0c0"/>
<rect x="478" y="661" width="3" height="1" fill="#c0c0c0"/>
<rect x="484" y="661" width="3" height="1" fill="#c0c0c0"/>
<rect x="490" y="661" width="3" height="1" fill="#c0c0c0"/>
<rect x="496" y="661" width="3" height="1" fill="#c0c0c0"/>
<rect x="502" y="661" width="3" height="1" fill="#c0c0c0"/>
<rect x="508" y="661" width="3" height="1" fill="#c0c0c0"/>
<rect x="514" y="661" width="3" height="1" fill="#c0c0c0"/>
<rect x="520" y="661" width="3" height="1" fill="#c0c0c0"/>
<rect x="526" y="661" width="3" height="1" fill="#c0c0c0"/>
<rect x="532" y="661" width="3" height="1" fill="#c0c0c0"/>
<rect x="538" y="661" width="3" height="1" fill="#c0c0c0"/>
<rect x="544" y="661" width="3" height="1" fill="#c0c0c0"/>
<rect x="550" y="661" width="3" height="1" fill="#c0c0c0"/>
<rect x="556" y="661" width="3" height="1" fill="#c0c0c0"/>
<rect x="562" y="661" width="3" height="1" fill="#c0c0c0"/>
<rect x="568" y="661" width="3" height="1" fill="#c0c0c0"/>
<rect x="574" y="661" width="3" height="1" fill="#c0c0c0"/>
<rect x="580" y="661" width="3" height="1" fill="#c0c0c0"/>
<rect x="586" y="661" width="3" height="1" fill="#c0c0c0"/>
<rect x="592" y="661" width="3" height="1" fill="#c0c0c0"/>
<rect x="598" y="661" width="3" height="1" fill="#c0c0c0"/>
<rect x="604" y="661" width="3" height="1" fill="#c0c0c0"/>
<rect x="610" y="661" width="3" height="1" fill="#c0c0c0"/>
<rect x="616" y="661" width="3" height="1" fill="#c0c0c0"/>
<rect x="622" y="661" width="3" height="1" fill="#c0c0c0"/>
<rect x="628" y="661" width="3" height="1" fill="#c0c0c0"/>
<rect x="634" y="661" width="3" height="1" fill="#c0c0c0"/>
<rect x="640" y="661" width="3" height="1" fill="#c0c0c0"/>
<rect x="646" y="661" width="3" height="1" fill="#c0c0c0"/>
<rect x="652" y="661" width="3" height="1" fill="#c0c0c0"/>
<rect x="658" y="661" width="3" height="1" fill="#c0c0c0"/>
<rect x="664" y="661" width="3" height="1" fill="#c0c0c0"/>
<rect x="670" y="661" width="3" height="1" fill="#c0c0c0"/>
<rect x="676" y="661" width="3" height="1" fill="#c0c0c0"/>
<rect x="682" y="661" width="3" height="1" fill="#c0c0c0"/>
<rect x="688" y="661" width="3" height="1" fill="#c0c0c0"/>
<rect x="694" y="661" width="3" height="1" fill="#c0c0c0"/>
<rect x="700" y="661" width="3" height="1" fill="#c0c0c0"/>
<rect x="706" y="661" width="3" height="1" fill="#c0c0c0"/>
<rect x="712" y="661" width="3" height="1" fill="#c0c0c0"/>
<rect x="718" y="661" width="3" height="1" fill="#c0c0c0"/>
<rect x="724" y="661" width="3" height="1" fill="#c0c0c0"/>
<rect x="730" y="661" width="3" height="1" fill="#c0c0c0"/>
<rect x="736" y="661" width="3" height="1" fill="#c0c0c0"/>
<rect x="742" y="661" width="3" height="1" fill="#c0c0c0"/>
<rect x="748" y="661" width="3" height="1" fill="#c0c0c0"/>
<rect x="754" y="661" width="3" height="1" fill="#c0c0c0"/>
<rect x="760" y="661" width="3" height="1" fill="#c0c0c0"/>
<rect x="766" y="661" width="3" height="1" fill="#c0c0c0"/>
<rect x="772" y="661" width="3" height="1" fill="#c0c0c0"/>
<rect x="778" y="661" width="3" height="1" fill="#c0c0c0"/>
<rect x="784" y="661" width="3" height="1" fill="#c0c0c0"/>
<rect x="790" y="661" width="3" height="1" fill="#c0c0c0"/>
<rect x="796" y="661" width="3" height="1" fill="#c0c0c0"/>
<rect x="802" y="661" width="3" height="1" fill="#c0c0c0"/>
<rect x="808" y="661" width="3" height="1" fill="#c0c0c0"/>
<rect x="814" y="661" width="3" height="1" fill="#c0c0c0"/>
<rect x="820" y="661" width="3" height="1" fill="#c0c0c0"/>
<rect x="826" y="661" width="3" height="1" fill="#c0c0c0"/>
<rect x="832" y="661" width="3" height="1" fill="#c0c0c0"/>
<rect x="838" y="661" width="3" height="1" fill="#c0c0c0"/>
<rect x="844" y="661" width="3" height="1" fill="#c0c0c0"/>
<rect x="850" y="661" width="3" height="1" fill="#c0c0c0"/>
<rect x="856" y="661" width="3" height="1" fill="#c0c0c0"/>
<rect x="862" y="661" width="3" height="1" fill="#c0c0c0"/>
<rect x="868" y="661" width="3" height="1" fill="#c0c0c0"/>
<rect x="874" y="661" width="3" height="1" fill="#c0c0c0"/>
<rect x="880" y="661" width="3" height="1" fill="#c0c0c0"/>
<rect x="886" y="661" width="3" height="1" fill="#c0c0c0"/>
<rect x="892" y="661" width="3" height="1" fill="#c0c0c0"/>
<rect x="898" y="661" width="3" height="1" fill="#c0c0c0"/>
<rect x="904" y="661" width="3" height="1" fill="#c0c0c0"/>
<rect x="910" y="661" width="3" height="1" fill="#c0c0c0"/>
<rect x="916" y="661" width="3" height="1" fill="#c0c0c0"/>
<rect x="922" y="661" width="3" height="1" fill="#c0c0c0"/>
<rect x="928" y="661" width="3" height="1" fill="#c0c0c0"/>
<rect x="934" y="661" width="3" height="1" fill="#c0c0c0"/>
<rect x="940" y="661" width="3" height="1" fill="#c0c0c0"/>
<rect x="946" y="661" width="3" height="1" fill="#c0c0c0"/>
<rect x="952" y="661" width="3" height="1" fill="#c0c0c0"/>
<rect x="958" y="661" width="3" height="1" fill="#c0c0c0"/>
<rect x="964" y="661" width="3" height="1" fill="#c0c0c0"/>
<rect x="970" y="661" width="3" height="1" fill="#c0c0c0"/>
<rect x="976" y="661" width="3" height="1" fill="#c0c0c0"/>
<rect x="982" y="661" width="3" height="1" fill="#c0c0c0"/>
<rect x="988" y="661" width="3" height="1" fill="#c0c0c0"/>
<rect x="994" y="661" width="3" height="1" fill="#c0c0c0"/>
<rect x="1000" y="661" width="3" height="1" fill="#c0c0c0"/>
<rect x="1006" y="661" width="3" height="1" fill="#c0c0c0"/>
<rect x="1012" y="661" width="3" height="1" fill="#c0c0c0"/>
<rect x="1018" y="661" width="3" height="1" fill="#c0c0c0"/>
<rect x="1024" y="661" width="3" height="1" fill="#c0c0c0"/>
<rect x="1030" y="661" width="3" height="1" fill="#c0c0c0"/>
<rect x="1036" y="661" width="3" height="1" fill="#c0c0c0"/>
<rect x="1042" y="661" width="3" height="1" fill="#c0c0c0"/>
<rect x="1048" y="661" width="3" height="1" fill="#c0c0c0"/>
<rect x="1054" y="661" width="3" height="1" fill="#c0c0c0"/>
<rect x="1060" y="661" width="3" height="1" fill="#c0c0c0"/>
<rect x="1066" y="661" width="3" height="1" fill="#c0c0c0"/>
<rect x="1072" y="661" width="3" height="1" fill="#c0c0c0"/>
<rect x="1078" y="661" width="3" height="1" fill="#c0c0c0"/>
<rect x="1084" y="661" width="3" height="1" fill="#c0c0c0"/>
<rect x="1090" y="661" width="3" height="1" fill="#c0c0c0"/>
<rect x="1096" y="661" width="3" height="1" fill="#c0c0c0"/>
<rect x="1102" y="661" width="3" height="1" fill="#c0c0c0"/>
<rect x="1108" y="661" width="3" height="1" fill="#c0c0c0"/>
<rect x="1114" y="661" width="3" height="1" fill="#c0c0c0"/>
<rect x="1120" y="661" width="3" height="1" fill="#c0c0c0"/>
<rect x="1126" y="661" width="3" height="1" fill="#c0c0c0"/>
<rect x="1132" y="661" width="3" height="1" fill="#c0c0c0"/>
<rect x="1138" y="661" width="3" height="1" fill="#c0c0c0"/>
<rect x="1144" y="661" width="3" height="1" fill="#c0c0c0"/>
<rect x="1150" y="661" width="3" height="1" fill="#c0c0c0"/>
<rect x="1156" y="661" width="3" height="1" fill="#c0c0c0"/>
<rect x="1162" y="661" width="3" height="1" fill="#c0c0c0"/>
<rect x="1168" y="661" width="3" height="1" fill="#c0c0c0"/>
<rect x="1174" y="661" width="3" height="1" fill="#c0c0c0"/>
<rect x="1180" y="661" width="3" height="1" fill="#c0c0c0"/>
<rect x="1186" y="661" width="3" height="1" fill="#c0c0c0"/>
<rect x="1192" y="661" width="3" height="1" fill="#c0c0c0"/>
<rect x="1198" y="661" width="3" height="1" fill="#c0c0c0"/>
<rect x="1204" y="661" width="3" height="1" fill="#c0c0c0"/>
<rect x="1210" y="661" width="3" height="1" fill="#c0c0c0"/>
<rect x="1216" y="661" width="3" height="1" fill="#c0c0c0"/>
<rect x="1222" y="661" width="3" height="1" fill="#c0c0c0"/>
<rect x="1228" y="661" width="3" height="1" fill="#c0c0c0"/>
<rect x="1234" y="661" width="3" height="1" fill="#c0c0c0"/>
<rect x="1240" y="661" width="3" height="1" fill="#c0c0c0"/>
<rect x="1246" y="661" width="3" height="1" fill="#c0c0c0"/>
<rect x="1252" y="661" width="3" height="1" fill="#c0c0c0"/>
<rect x="1258" y="661" width="3" height="1" fill="#c0c0c0"/>
<rect x="1264" y="661" width="3" height="1" fill="#c0c0c0"/>
<rect x="1270" y="661" width="3" height="1" fill="#c0c0c0"/>
<rect x="1276" y="661" width="3" height="1" fill="#c0c0c0"/>
<rect x="1282" y="661" width="3" height="1" fill="#c0c0c0"/>
<rect x="1288" y="661" width="3" height="1" fill="#c0c0c0"/>
<rect x="1294" y="661" width="3" height="1" fill="#c0c0c0"/>
<rect x="1300" y="661" width="3" height="1" fill="#c0c0c0"/>
<rect x="1306" y="661" width="3" height="1" fill="#c0c0c0"/>
<rect x="1312" y="661" width="3" height="1" fill="#c0c0c0"/>
<rect x="1318" y="661" width="3" height="1" fill="#c0c0c0"/>
<rect x="1324" y="661" width="3" height="1" fill="#c0c0c0"/>
<rect x="1330" y="661" width="3" height="1" fill="#c0c0c0"/>
<rect x="1336" y="661" width="3" height="1" fill="#c0c0c0"/>
<rect x="1342" y="661" width="3" height="1" fill="#c0c0c0"/>
<rect x="1348" y="661" width="3" height="1" fill="#c0c0c0"/>
<rect x="1354" y="661" width="3" height="1" fill="#c0c0c0"/>
<rect x="1360" y="661" width="1" height="1" fill="#c0c0c0"/>
<rect x="4" y="723" width="3" height="1" fill="#000"/>
<rect x="10" y="723" width="3" height="1" fill="#000"/>
<rect x="16" y="723" width="3" height="1" fill="#000"/>
<rect x="22" y="723" width="3" height="1" fill="#000"/>
<rect x="28" y="723" width="3" height="1" fill="#000"/>
<rect x="34" y="723" width="3" height="1" fill="#000"/>
<rect x="40" y="723" width="3" height="1" fill="#000"/>
<rect x="46" y="723" width="3" height="1" fill="#000"/>
<rect x="52" y="723" width="3" height="1" fill="#000"/>
<rect x="58" y="723" width="3" height="1" fill="#000"/>
<rect x="64" y="723" width="3" height="1" fill="#000"/>
<rect x="70" y="723" width="3" height="1" fill="#000"/>
<rect x="76" y="723" width="3" height="1" fill="#000"/>
<rect x="82" y="723" width="3" height="1" fill="#000"/>
<rect x="88" y="723" width="3" height="1" fill="#000"/>
<rect x="94" y="723" width="3" height="1" fill="#000"/>
<rect x="100" y="723" width="3" height="1" fill="#000"/>
<rect x="106" y="723" width="3" height="1" fill="#000"/>
<rect x="112" y="723" width="3" height="1" fill="#000"/>
<rect x="118" y="723" width="3" height="1" fill="#000"/>
<rect x="124" y="723" width="3" height="1" fill="#000"/>
<rect x="130" y="723" width="3" height="1" fill="#000"/>
<rect x="136" y="723" width="3" height="1" fill="#000"/>
<rect x="142" y="723" width="3" height="1" fill="#000"/>
<rect x="148" y="723" width="3" height="1" fill="#000"/>
<rect x="154" y="723" width="3" height="1" fill="#000"/>
<rect x="160" y="723" width="3" height="1" fill="#000"/>
<rect x="166" y="723" width="3" height="1" fill="#000"/>
<rect x="172" y="723" width="3" height="1" fill="#000"/>
<rect x="178" y="723" width="3" height="1" fill="#000"/>
<rect x="184" y="723" width="3" height="1" fill="#000"/>
<rect x="190" y="723" width="3" height="1" fill="#000"/>
<rect x="196" y="723" width="3" height="1" fill="#000"/>
<rect x="202" y="723" width="3" height="1" fill="#000"/>
<rect x="208" y="723" width="3" height="1" fill="#000"/>
<rect x="214" y="723" width="3" height="1" fill="#000"/>
<rect x="220" y="723" width="3" height="1" fill="#000"/>
<rect x="226" y="723" width="3" height="1" fill="#000"/>
<rect x="232" y="723" width="3" height="1" fill="#000"/>
<rect x="238" y="723" width="3" height="1" fill="#000"/>
<rect x="244" y="723" width="3" height="1" fill="#000"/>
<rect x="250" y="723" width="3" height="1" fill="#000"/>
<rect x="256" y="723" width="3" height="1" fill="#000"/>
<rect x="262" y="723" width="3" height="1" fill="#000"/>
<rect x="268" y="723" width="3" height="1" fill="#000"/>
<rect x="274" y="723" width="3" height="1" fill="#000"/>
<rect x="280" y="723" width="3" height="1" fill="#000"/>
<rect x="286" y="723" width="3" height="1" fill="#000"/>
<rect x="292" y="723" width="3" height="1" fill="#000"/>
<rect x="298" y="723" width="3" height="1" fill="#000"/>
<rect x="304" y="723" width="3" height="1" fill="#000"/>
<rect x="310" y="723" width="3" height="1" fill="#000"/>
<rect x="316" y="723" width="3" height="1" fill="#000"/>
<rect x="322" y="723" width="3" height="1" fill="#000"/>
<rect x="328" y="723" width="3" height="1" fill="#000"/>
<rect x="334" y="723" width="3" height="1" fill="#000"/>
<rect x="340" y="723" width="3" height="1" fill="#000"/>
<rect x="346" y="723" width="3" height="1" fill="#000"/>
<rect x="352" y="723" width="3" height="1" fill="#000"/>
<rect x="358" y="723" width="3" height="1" fill="#000"/>
<rect x="364" y="723" width="3" height="1" fill="#000"/>
<rect x="370" y="723" width="3" height="1" fill="#000"/>
<rect x="376" y="723" width="3" height="1" fill="#000"/>
<rect x="382" y="723" width="3" height="1" fill="#000"/>
<rect x="388" y="723" width="3" height="1" fill="#000"/>
<rect x="394" y="723" width="3" height="1" fill="#000"/>
<rect x="400" y="723" width="3" height="1" fill="#000"/>
<rect x="406" y="723" width="3" height="1" fill="#000"/>
<rect x="412" y="723" width="3" height="1" fill="#000"/>
<rect x="418" y="723" width="3" height="1" fill="#000"/>
<rect x="424" y="723" width="3" height="1" fill="#000"/>
<rect x="430" y="723" width="3" height="1" fill="#000"/>
<rect x="436" y="723" width="3" height="1" fill="#000"/>
<rect x="442" y="723" width="3" height="1" fill="#000"/>
<rect x="448" y="723" width="3" height="1" fill="#000"/>
<rect x="454" y="723" width="3" height="1" fill="#000"/>
<rect x="460" y="723" width="3" height="1" fill="#000"/>
<rect x="466" y="723" width="3" height="1" fill="#000"/>
<rect x="472" y="723" width="3" height="1" fill="#000"/>
<rect x="478" y="723" width="3" height="1" fill="#000"/>
<rect x="484" y="723" width="3" height="1" fill="#000"/>
<rect x="490" y="723" width="3" height="1" fill="#000"/>
<rect x="496" y="723" width="3" height="1" fill="#000"/>
<rect x="502" y="723" width="3" height="1" fill="#000"/>
<rect x="508" y="723" width="3" height="1" fill="#000"/>
<rect x="514" y="723" width="3" height="1" fill="#000"/>
<rect x="520" y="723" width="3" height="1" fill="#000"/>
<rect x="526" y="723" width="3" height="1" fill="#000"/>
<rect x="532" y="723" width="3" height="1" fill="#000"/>
<rect x="538" y="723" width="3" height="1" fill="#000"/>
<rect x="544" y="723" width="3" height="1" fill="#000"/>
<rect x="550" y="723" width="3" height="1" fill="#000"/>
<rect x="556" y="723" width="3" height="1" fill="#000"/>
<rect x="562" y="723" width="3" height="1" fill="#000"/>
<rect x="568" y="723" width="3" height="1" fill="#000"/>
<rect x="574" y="723" width="3" height="1" fill="#000"/>
<rect x="580" y="723" width="3" height="1" fill="#000"/>
<rect x="586" y="723" width="3" height="1" fill="#000"/>
<rect x="592" y="723" width="3" height="1" fill="#000"/>
<rect x="598" y="723" width="3" height="1" fill="#000"/>
<rect x="604" y="723" width="3" height="1" fill="#000"/>
<rect x="610" y="723" width="3" height="1" fill="#000"/>
<rect x="616" y="723" width="3" height="1" fill="#000"/>
<rect x="622" y="723" width="3" height="1" fill="#000"/>
<rect x="628" y="723" width="3" height="1" fill="#000"/>
<rect x="634" y="723" width="3" height="1" fill="#000"/>
<rect x="640" y="723" width="3" height="1" fill="#000"/>
<rect x="646" y="723" width="3" height="1" fill="#000"/>
<rect x="652" y="723" width="3" height="1" fill="#000"/>
<rect x="658" y="723" width="3" height="1" fill="#000"/>
<rect x="664" y="723" width="3" height="1" fill="#000"/>
<rect x="670" y="723" width="3" height="1" fill="#000"/>
<rect x="676" y="723" width="3" height="1" fill="#000"/>
<rect x="682" y="723" width="3" height="1" fill="#000"/>
<rect x="688" y="723" width="3" height="1" fill="#000"/>
<rect x="694" y="723" width="3" height="1" fill="#000"/>
<rect x="700" y="723" width="3" height="1" fill="#000"/>
<rect x="706" y="723" width="3" height="1" fill="#000"/>
<rect x="712" y="723" width="3" height="1" fill="#000"/>
<rect x="718" y="723" width="3" height="1" fill="#000"/>
<rect x="724" y="723" width="3" height="1" fill="#000"/>
<rect x="730" y="723" width="3" height="1" fill="#000"/>
<rect x="736" y="723" width="3" height="1" fill="#000"/>
<rect x="742" y="723" width="3" height="1" fill="#000"/>
<rect x="748" y="723" width="3" height="1" fill="#000"/>
<rect x="754" y="723" width="3" height="1" fill="#000"/>
<rect x="760" y="723" width="3" height="1" fill="#000"/>
<rect x="766" y="723" width="3" height="1" fill="#000"/>
<rect x="772" y="723" width="3" height="1" fill="#000"/>
<rect x="778" y="723" width="3" height="1" fill="#000"/>
<rect x="784" y="723" width="3" height="1" fill="#000"/>
<rect x="790" y="723" width="3" height="1" fill="#000"/>
<rect x="796" y="723" width="3" height="1" fill="#000"/>
<rect x="802" y="723" width="3" height="1" fill="#000"/>
<rect x="808" y="723" width="3" height="1" fill="#000"/>
<rect x="814" y="723" width="3" height="1" fill="#000"/>
<rect x="820" y="723" width="3" height="1" fill="#000"/>
<rect x="826" y="723" width="3" height="1" fill="#000"/>
<rect x="832" y="723" width="3" height="1" fill="#000"/>
<rect x="838" y="723" width="3" height="1" fill="#000"/>
<rect x="844" y="723" width="3" height="1" fill="#000"/>
<rect x="850" y="723" width="3" height="1" fill="#000"/>
<rect x="856" y="723" width="3" height="1" fill="#000"/>
<rect x="862" y="723" width="3" height="1" fill="#000"/>
<rect x="868" y="723" width="3" height="1" fill="#000"/>
<rect x="874" y="723" width="3" height="1" fill="#000"/>
<rect x="880" y="723" width="3" height="1" fill="#000"/>
<rect x="886" y="723" width="3" height="1" fill="#000"/>
<rect x="892" y="723" width="3" height="1" fill="#000"/>
<rect x="898" y="723" width="3" height="1" fill="#000"/>
<rect x="904" y="723" width="3" height="1" fill="#000"/>
<rect x="910" y="723" width="3" height="1" fill="#000"/>
<rect x="916" y="723" width="3" height="1" fill="#000"/>
<rect x="922" y="723" width="3" height="1" fill="#000"/>
<rect x="928" y="723" width="3" height="1" fill="#000"/>
<rect x="934" y="723" width="3" height="1" fill="#000"/>
<rect x="940" y="723" width="3" height="1" fill="#000"/>
<rect x="946" y="723" width="3" height="1" fill="#000"/>
<rect x="952" y="723" width="3" height="1" fill="#000"/>
<rect x="958" y="723" width="3" height="1" fill="#000"/>
<rect x="964" y="723" width="3" height="1" fill="#000"/>
<rect x="970" y="723" width="3" height="1" fill="#000"/>
<rect x="976" y="723" width="3" height="1" fill="#000"/>
<rect x="982" y="723" width="3" height="1" fill="#000"/>
<rect x="988" y="723" width="3" height="1" fill="#000"/>
<rect x="994" y="723" width="3" height="1" fill="#000"/>
<rect x="1000" y="723" width="3" height="1" fill="#000"/>
<rect x="1006" y="723" width="3" height="1" fill="#000"/>
<rect x="1012" y="723" width="3" height="1" fill="#000"/>
<rect x="1018" y="723" width="3" height="1" fill="#000"/>
<rect x="1024" y="723" width="3" height="1" fill="#000"/>
<rect x="1030" y="723" width="3" height="1" fill="#000"/>
<rect x="1036" y="723" width="3" height="1" fill="#000"/>
<rect x="1042" y="723" width="3" height="1" fill="#000"/>
<rect x="1048" y="723" width="3" height="1" fill="#000"/>
<rect x="1054" y="723" width="3" height="1" fill="#000"/>
<rect x="1060" y="723" width="3" height="1" fill="#000"/>
<rect x="1066" y="723" width="3" height="1" fill="#000"/>
<rect x="1072" y="723" width="3" height="1" fill="#000"/>
<rect x="1078" y="723" width="3" height="1" fill="#000"/>
<rect x="1084" y="723" width="3" height="1" fill="#000"/>
<rect x="1090" y="723" width="3" height="1" fill="#000"/>
<rect x="1096" y="723" width="3" height="1" fill="#000"/>
<rect x="1102" y="723" width="3" height="1" fill="#000"/>
<rect x="1108" y="723" width="3" height="1" fill="#000"/>
<rect x="1114" y="723" width="3" height="1" fill="#000"/>
<rect x="1120" y="723" width="3" height="1" fill="#000"/>
<rect x="1126" y="723" width="3" height="1" fill="#000"/>
<rect x="1132" y="723" width="3" height="1" fill="#000"/>
<rect x="1138" y="723" width="3" height="1" fill="#000"/>
<rect x="1144" y="723" width="3" height="1" fill="#000"/>
<rect x="1150" y="723" width="3" height="1" fill="#000"/>
<rect x="1156" y="723" width="3" height="1" fill="#000"/>
<rect x="1162" y="723" width="3" height="1" fill="#000"/>
<rect x="1168" y="723" width="3" height="1" fill="#000"/>
<rect x="1174" y="723" width="3" height="1" fill="#000"/>
<rect x="1180" y="723" width="3" height="1" fill="#000"/>
<rect x="1186" y="723" width="3" height="1" fill="#000"/>
<rect x="1192" y="723" width="3" height="1" fill="#000"/>
<rect x="1198" y="723" width="3" height="1" fill="#000"/>
<rect x="1204" y="723" width="3" height="1" fill="#000"/>
<rect x="1210" y="723" width="3" height="1" fill="#000"/>
<rect x="1216" y="723" width="3" height="1" fill="#000"/>
<rect x="1222" y="723" width="3" height="1" fill="#000"/>
<rect x="1228" y="723" width="3" height="1" fill="#000"/>
<rect x="1234" y="723" width="3" height="1" fill="#000"/>
<rect x="1240" y="723" width="3" height="1" fill="#000"/>
<rect x="1246" y="723" width="3" height="1" fill="#000"/>
<rect x="1252" y="723" width="3" height="1" fill="#000"/>
<rect x="1258" y="723" width="3" height="1" fill="#000"/>
<rect x="1264" y="723" width="3" height="1" fill="#000"/>
<rect x="1270" y="723" width="3" height="1" fill="#000"/>
<rect x="1276" y="723" width="3" height="1" fill="#000"/>
<rect x="1282" y="723" width="3" height="1" fill="#000"/>
<rect x="1288" y="723" width="3" height="1" fill="#000"/>
<rect x="1294" y="723" width="3" height="1" fill="#000"/>
<rect x="1300" y="723" width="3" height="1" fill="#000"/>
<rect x="1306" y="723" width="3" height="1" fill="#000"/>
<rect x="1312" y="723" width="3" height="1" fill="#000"/>
<rect x="1318" y="723" width="3" height="1" fill="#000"/>
<rect x="1324" y="723" width="3" height="1" fill="#000"/>
<rect x="1330" y="723" width="3" height="1" fill="#000"/>
<rect x="1336" y="723" width="3" height="1" fill="#000"/>
<rect x="1342" y="723" width="3" height="1" fill="#000"/>
<rect x="1348" y="723" width="3" height="1" fill="#000"/>
<rect x="1354" y="723" width="3" height="1" fill="#000"/>
<rect x="1360" y="723" width="1" height="1" fill="#000"/>
<rect x="4" y="760" width="3" height="1" fill="#000"/>
<rect x="10" y="760" width="3" height="1" fill="#000"/>
<rect x="16" y="760" width="3" height="1" fill="#000"/>
<rect x="22" y="760" width="3" height="1" fill="#000"/>
<rect x="28" y="760" width="3" height="1" fill="#000"/>
<rect x="34" y="760" width="3" height="1" fill="#000"/>
<rect x="40" y="760" width="3" height="1" fill="#000"/>
<rect x="46" y="760" width="3" height="1" fill="#000"/>
<rect x="52" y="760" width="3" height="1" fill="#000"/>
<rect x="58" y="760" width="3" height="1" fill="#000"/>
<rect x="64" y="760" width="3" height="1" fill="#000"/>
<rect x="70" y="760" width="3" height="1" fill="#000"/>
<rect x="76" y="760" width="3" height="1" fill="#000"/>
<rect x="82" y="760" width="3" height="1" fill="#000"/>
<rect x="88" y="760" width="3" height="1" fill="#000"/>
<rect x="94" y="760" width="3" height="1" fill="#000"/>
<rect x="100" y="760" width="3" height="1" fill="#000"/>
<rect x="106" y="760" width="3" height="1" fill="#000"/>
<rect x="112" y="760" width="3" height="1" fill="#000"/>
<rect x="118" y="760" width="3" height="1" fill="#000"/>
<rect x="124" y="760" width="3" height="1" fill="#000"/>
<rect x="130" y="760" width="3" height="1" fill="#000"/>
<rect x="136" y="760" width="3" height="1" fill="#000"/>
<rect x="142" y="760" width="3" height="1" fill="#000"/>
<rect x="148" y="760" width="3" height="1" fill="#000"/>
<rect x="154" y="760" width="3" height="1" fill="#000"/>
<rect x="160" y="760" width="3" height="1" fill="#000"/>
<rect x="166" y="760" width="3" height="1" fill="#000"/>
<rect x="172" y="760" width="3" height="1" fill="#000"/>
<rect x="178" y="760" width="3" height="1" fill="#000"/>
<rect x="184" y="760" width="3" height="1" fill="#000"/>
<rect x="190" y="760" width="3" height="1" fill="#000"/>
<rect x="196" y="760" width="3" height="1" fill="#000"/>
<rect x="202" y="760" width="3" height="1" fill="#000"/>
<rect x="208" y="760" width="3" height="1" fill="#000"/>
<rect x="214" y="760" width="3" height="1" fill="#000"/>
<rect x="220" y="760" width="3" height="1" fill="#000"/>
<rect x="226" y="760" width="3" height="1" fill="#000"/>
<rect x="232" y="760" width="3" height="1" fill="#000"/>
<rect x="238" y="760" width="3" height="1" fill="#000"/>
<rect x="244" y="760" width="3" height="1" fill="#000"/>
<rect x="250" y="760" width="3" height="1" fill="#000"/>
<rect x="256" y="760" width="3" height="1" fill="#000"/>
<rect x="262" y="760" width="3" height="1" fill="#000"/>
<rect x="268" y="760" width="3" height="1" fill="#000"/>
<rect x="274" y="760" width="3" height="1" fill="#000"/>
<rect x="280" y="760" width="3" height="1" fill="#000"/>
<rect x="286" y="760" width="3" height="1" fill="#000"/>
<rect x="292" y="760" width="3" height="1" fill="#000"/>
<rect x="298" y="760" width="3" height="1" fill="#000"/>
<rect x="304" y="760" width="3" height="1" fill="#000"/>
<rect x="310" y="760" width="3" height="1" fill="#000"/>
<rect x="316" y="760" width="3" height="1" fill="#000"/>
<rect x="322" y="760" width="3" height="1" fill="#000"/>
<rect x="328" y="760" width="3" height="1" fill="#000"/>
<rect x="334" y="760" width="3" height="1" fill="#000"/>
<rect x="340" y="760" width="3" height="1" fill="#000"/>
<rect x="346" y="760" width="3" height="1" fill="#000"/>
<rect x="352" y="760" width="3" height="1" fill="#000"/>
<rect x="358" y="760" width="3" height="1" fill="#000"/>
<rect x="364" y="760" width="3" height="1" fill="#000"/>
<rect x="370" y="760" width="3" height="1" fill="#000"/>
<rect x="376" y="760" width="3" height="1" fill="#000"/>
<rect x="382" y="760" width="3" height="1" fill="#000"/>
<rect x="388" y="760" width="3" height="1" fill="#000"/>
<rect x="394" y="760" width="3" height="1" fill="#000"/>
<rect x="400" y="760" width="3" height="1" fill="#000"/>
<rect x="406" y="760" width="3" height="1" fill="#000"/>
<rect x="412" y="760" width="3" height="1" fill="#000"/>
<rect x="418" y="760" width="3" height="1" fill="#000"/>
<rect x="424" y="760" width="3" height="1" fill="#000"/>
<rect x="430" y="760" width="3" height="1" fill="#000"/>
<rect x="436" y="760" width="3" height="1" fill="#000"/>
<rect x="442" y="760" width="3" height="1" fill="#000"/>
<rect x="448" y="760" width="3" height="1" fill="#000"/>
<rect x="454" y="760" width="3" height="1" fill="#000"/>
<rect x="460" y="760" width="3" height="1" fill="#000"/>
<rect x="466" y="760" width="3" height="1" fill="#000"/>
<rect x="472" y="760" width="3" height="1" fill="#000"/>
<rect x="478" y="760" width="3" height="1" fill="#000"/>
<rect x="484" y="760" width="3" height="1" fill="#000"/>
<rect x="490" y="760" width="3" height="1" fill="#000"/>
<rect x="496" y="760" width="3" height="1" fill="#000"/>
<rect x="502" y="760" width="3" height="1" fill="#000"/>
<rect x="508" y="760" width="3" height="1" fill="#000"/>
<rect x="514" y="760" width="3" height="1" fill="#000"/>
<rect x="520" y="760" width="3" height="1" fill="#000"/>
<rect x="526" y="760" width="3" height="1" fill="#000"/>
<rect x="532" y="760" width="3" height="1" fill="#000"/>
<rect x="538" y="760" width="3" height="1" fill="#000"/>
<rect x="544" y="760" width="3" height="1" fill="#000"/>
<rect x="550" y="760" width="3" height="1" fill="#000"/>
<rect x="556" y="760" width="3" height="1" fill="#000"/>
<rect x="562" y="760" width="3" height="1" fill="#000"/>
<rect x="568" y="760" width="3" height="1" fill="#000"/>
<rect x="574" y="760" width="3" height="1" fill="#000"/>
<rect x="580" y="760" width="3" height="1" fill="#000"/>
<rect x="586" y="760" width="3" height="1" fill="#000"/>
<rect x="592" y="760" width="3" height="1" fill="#000"/>
<rect x="598" y="760" width="3" height="1" fill="#000"/>
<rect x="604" y="760" width="3" height="1" fill="#000"/>
<rect x="610" y="760" width="3" height="1" fill="#000"/>
<rect x="616" y="760" width="3" height="1" fill="#000"/>
<rect x="622" y="760" width="3" height="1" fill="#000"/>
<rect x="628" y="760" width="3" height="1" fill="#000"/>
<rect x="634" y="760" width="3" height="1" fill="#000"/>
<rect x="640" y="760" width="3" height="1" fill="#000"/>
<rect x="646" y="760" width="3" height="1" fill="#000"/>
<rect x="652" y="760" width="3" height="1" fill="#000"/>
<rect x="658" y="760" width="3" height="1" fill="#000"/>
<rect x="664" y="760" width="3" height="1" fill="#000"/>
<rect x="670" y="760" width="3" height="1" fill="#000"/>
<rect x="676" y="760" width="3" height="1" fill="#000"/>
<rect x="682" y="760" width="3" height="1" fill="#000"/>
<rect x="688" y="760" width="3" height="1" fill="#000"/>
<rect x="694" y="760" width="3" height="1" fill="#000"/>
<rect x="700" y="760" width="3" height="1" fill="#000"/>
<rect x="706" y="760" width="3" height="1" fill="#000"/>
<rect x="712" y="760" width="3" height="1" fill="#000"/>
<rect x="718" y="760" width="3" height="1" fill="#000"/>
<rect x="724" y="760" width="3" height="1" fill="#000"/>
<rect x="730" y="760" width="3" height="1" fill="#000"/>
<rect x="736" y="760" width="3" height="1" fill="#000"/>
<rect x="742" y="760" width="3" height="1" fill="#000"/>
<rect x="748" y="760" width="3" height="1" fill="#000"/>
<rect x="754" y="760" width="3" height="1" fill="#000"/>
<rect x="760" y="760" width="3" height="1" fill="#000"/>
<rect x="766" y="760" width="3" height="1" fill="#000"/>
<rect x="772" y="760" width="3" height="1" fill="#000"/>
<rect x="778" y="760" width="3" height="1" fill="#000"/>
<rect x="784" y="760" width="3" height="1" fill="#000"/>
<rect x="790" y="760" width="3" height="1" fill="#000"/>
<rect x="796" y="760" width="3" height="1" fill="#000"/>
<rect x="802" y="760" width="3" height="1" fill="#000"/>
<rect x="808" y="760" width="3" height="1" fill="#000"/>
<rect x="814" y="760" width="3" height="1" fill="#000"/>
<rect x="820" y="760" width="3" height="1" fill="#000"/>
<rect x="826" y="760" width="3" height="1" fill="#000"/>
<rect x="832" y="760" width="3" height="1" fill="#000"/>
<rect x="838" y="760" width="3" height="1" fill="#000"/>
<rect x="844" y="760" width="3" height="1" fill="#000"/>
<rect x="850" y="760" width="3" height="1" fill="#000"/>
<rect x="856" y="760" width="3" height="1" fill="#000"/>
<rect x="862" y="760" width="3" height="1" fill="#000"/>
<rect x="868" y="760" width="3" height="1" fill="#000"/>
<rect x="874" y="760" width="3" height="1" fill="#000"/>
<rect x="880" y="760" width="3" height="1" fill="#000"/>
<rect x="886" y="760" width="3" height="1" fill="#000"/>
<rect x="892" y="760" width="3" height="1" fill="#000"/>
<rect x="898" y="760" width="3" height="1" fill="#000"/>
<rect x="904" y="760" width="3" height="1" fill="#000"/>
<rect x="910" y="760" width="3" height="1" fill="#000"/>
<rect x="916" y="760" width="3" height="1" fill="#000"/>
<rect x="922" y="760" width="3" height="1" fill="#000"/>
<rect x="928" y="760" width="3" height="1" fill="#000"/>
<rect x="934" y="760" width="3" height="1" fill="#000"/>
<rect x="940" y="760" width="3" height="1" fill="#000"/>
<rect x="946" y="760" width="3" height="1" fill="#000"/>
<rect x="952" y="760" width="3" height="1" fill="#000"/>
<rect x="958" y="760" width="3" height="1" fill="#000"/>
<rect x="964" y="760" width="3" height="1" fill="#000"/>
<rect x="970" y="760" width="3" height="1" fill="#000"/>
<rect x="976" y="760" width="3" height="1" fill="#000"/>
<rect x="982" y="760" width="3" height="1" fill="#000"/>
<rect x="988" y="760" width="3" height="1" fill="#000"/>
<rect x="994" y="760" width="3" height="1" fill="#000"/>
<rect x="1000" y="760" width="3" height="1" fill="#000"/>
<rect x="1006" y="760" width="3" height="1" fill="#000"/>
<rect x="1012" y="760" width="3" height="1" fill="#000"/>
<rect x="1018" y="760" width="3" height="1" fill="#000"/>
<rect x="1024" y="760" width="3" height="1" fill="#000"/>
<rect x="1030" y="760" width="3" height="1" fill="#000"/>
<rect x="1036" y="760" width="3" height="1" fill="#000"/>
<rect x="1042" y="760" width="3" height="1" fill="#000"/>
<rect x="1048" y="760" width="3" height="1" fill="#000"/>
<rect x="1054" y="760" width="3" height="1" fill="#000"/>
<rect x="1060" y="760" width="3" height="1" fill="#000"/>
<rect x="1066" y="760" width="3" height="1" fill="#000"/>
<rect x="1072" y="760" width="3" height="1" fill="#000"/>
<rect x="1078" y="760" width="3" height="1" fill="#000"/>
<rect x="1084" y="760" width="3" height="1" fill="#000"/>
<rect x="1090" y="760" width="3" height="1" fill="#000"/>
<rect x="1096" y="760" width="3" height="1" fill="#000"/>
<rect x="1102" y="760" width="3" height="1" fill="#000"/>
<rect x="1108" y="760" width="3" height="1" fill="#000"/>
<rect x="1114" y="760" width="3" height="1" fill="#000"/>
<rect x="1120" y="760" width="3" height="1" fill="#000"/>
<rect x="1126" y="760" width="3" height="1" fill="#000"/>
<rect x="1132" y="760" width="3" height="1" fill="#000"/>
<rect x="1138" y="760" width="3" height="1" fill="#000"/>
<rect x="1144" y="760" width="3" height="1" fill="#000"/>
<rect x="1150" y="760" width="3" height="1" fill="#000"/>
<rect x="1156" y="760" width="3" height="1" fill="#000"/>
<rect x="1162" y="760" width="3" height="1" fill="#000"/>
<rect x="1168" y="760" width="3" height="1" fill="#000"/>
<rect x="1174" y="760" width="3" height="1" fill="#000"/>
<rect x="1180" y="760" width="3" height="1" fill="#000"/>
<rect x="1186" y="760" width="3" height="1" fill="#000"/>
<rect x="1192" y="760" width="3" height="1" fill="#000"/>
<rect x="1198" y="760" width="3" height="1" fill="#000"/>
<rect x="1204" y="760" width="3" height="1" fill="#000"/>
<rect x="1210" y="760" width="3" height="1" fill="#000"/>
<rect x="1216" y="760" width="3" height="1" fill="#000"/>
<rect x="1222" y="760" width="3" height="1" fill="#000"/>
<rect x="1228" y="760" width="3" height="1" fill="#000"/>
<rect x="1234" y="760" width="3" height="1" fill="#000"/>
<rect x="1240" y="760" width="3" height="1" fill="#000"/>
<rect x="1246" y="760" width="3" height="1" fill="#000"/>
<rect x="1252" y="760" width="3" height="1" fill="#000"/>
<rect x="1258" y="760" width="3" height="1" fill="#000"/>
<rect x="1264" y="760" width="3" height="1" fill="#000"/>
<rect x="1270" y="760" width="3" height="1" fill="#000"/>
<rect x="1276" y="760" width="3" height="1" fill="#000"/>
<rect x="1282" y="760" width="3" height="1" fill="#000"/>
<rect x="1288" y="760" width="3" height="1" fill="#000"/>
<rect x="1294" y="760" width="3" height="1" fill="#000"/>
<rect x="1300" y="760" width="3" height="1" fill="#000"/>
<rect x="1306" y="760" width="3" height="1" fill="#000"/>
<rect x="1312" y="760" width="3" height="1" fill="#000"/>
<rect x="1318" y="760" width="3" height="1" fill="#000"/>
<rect x="1324" y="760" width="3" height="1" fill="#000"/>
<rect x="1330" y="760" width="3" height="1" fill="#000"/>
<rect x="1336" y="760" width="3" height="1" fill="#000"/>
<rect x="1342" y="760" width="3" height="1" fill="#000"/>
<rect x="1348" y="760" width="3" height="1" fill="#000"/>
<rect x="1354" y="760" width="3" height="1" fill="#000"/>
<rect x="1360" y="760" width="1" height="1" fill="#000"/>
<polyline points="3.5,512 11.5,514 19.5,515 27.5,517 35.5,533 43.5,542 51.5,550 59.5,518 67.5,513 75.5,505 83.5,508 91.5,507 99.5,504 107.5,504 115.5,508 123.5,518 131.5,528 139.5,535 147.5,523 155.5,521 163.5,528 171.5,552 179.5,565 187.5,565 195.5,555 203.5,537 211.5,529 219.5,533 227.5,547 235.5,536 243.5,522 251.5,507 259.5,511 267.5,519 275.5,540 283.5,537 291.5,521 299.5,516 307.5,527 315.5,538 323.5,542 331.5,543 339.5,533 347.5,517 355.5,503 363.5,509 371.5,534 379.5,559 387.5,575 395.5,577 403.5,577 411.5,573 419.5,560 427.5,537 435.5,520 443.5,509 451.5,505 459.5,521 467.5,537 475.5,544 483.5,537 491.5,539 499.5,553 507.5,566 515.5,561 523.5,547 531.5,518 539.5,511 547.5,514 555.5,522 563.5,516 571.5,512 579.5,501 587.5,500 595.5,499 603.5,508 611.5,515 619.5,521 627.5,529 635.5,536 643.5,536 651.5,519 659.5,507 667.5,508 675.5,524 683.5,542 691.5,538 699.5,513 707.5,502 715.5,507 723.5,506 731.5,506 739.5,503 747.5,508 755.5,507 763.5,515 771.5,515 779.5,515 787.5,514 795.5,516 803.5,533 811.5,531 819.5,523 827.5,519 835.5,515 843.5,515 851.5,518 859.5,529 867.5,560 875.5,575 883.5,582 891.5,579 899.5,578 907.5,573 915.5,565 923.5,535 931.5,520 939.5,514 947.5,537 955.5,550 963.5,560 971.5,543 979.5,522 987.5,504 995.5,499 1003.5,509 1011.5,528 1019.5,552 1027.5,569 1035.5,569 1043.5,563 1051.5,560 1059.5,550 1067.5,535 1075.5,516" fill="none" stroke="#008080" stroke-width="2" stroke-linejoin="round" shape-rendering="crispEdges"/>
<polyline points="3.5,520 11.5,517 19.5,516 27.5,516 35.5,525 43.5,533 51.5,542 59.5,530 67.5,521 75.5,513 83.5,510 91.5,508 99.5,506 107.5,505 115.5,506 123.5,512 131.5,520 139.5,527 147.5,525 155.5,523 163.5,526 171.5,539 179.5,552 187.5,558 195.5,557 203.5,547 211.5,538 219.5,536 227.5,541 235.5,538 243.5,530 251.5,519 259.5,515 267.5,517 275.5,528 283.5,533 291.5,527 299.5,521 307.5,524 315.5,531 323.5,537 331.5,540 339.5,537 347.5,527 355.5,515 363.5,512 371.5,523 379.5,541 387.5,558 395.5,568 403.5,572 411.5,573 419.5,566 427.5,552 435.5,536 443.5,522 451.5,514 459.5,517 467.5,527 475.5,535 483.5,536 491.5,538 499.5,546 507.5,556 515.5,558 523.5,553 531.5,535 539.5,523 547.5,519 555.5,520 563.5,518 571.5,515 579.5,508 587.5,504 595.5,502 603.5,505 611.5,510 619.5,515 627.5,522 635.5,529 643.5,533 651.5,526 659.5,516 667.5,512 675.5,518 683.5,530 691.5,534 699.5,524 707.5,513 715.5,510 723.5,508 731.5,507 739.5,505 747.5,506 755.5,507 763.5,511 771.5,513 779.5,514 787.5,514 795.5,515 803.5,524 811.5,527 819.5,525 827.5,522 835.5,518 843.5,517 851.5,517 859.5,523 867.5,541 875.5,558 883.5,570 891.5,575 899.5,576 907.5,575 915.5,570 923.5,552 931.5,536 939.5,525 947.5,531 955.5,540 963.5,550 971.5,547 979.5,534 987.5,519 995.5,509 1003.5,509 1011.5,519 1019.5,535 1027.5,552 1035.5,561 1043.5,562 1051.5,561 1059.5,556 1067.5,546 1075.5,531" fill="none" stroke="#ff0000" stroke-width="2" stroke-linejoin="round" shape-rendering="crispEdges"/>
<polyline points="3.5,637 11.5,632 19.5,632 27.5,636 35.5,644 43.5,638 51.5,644 59.5,623 67.5,627 75.5,627 83.5,618 91.5,617 99.5,614 107.5,617 115.5,624 123.5,623 131.5,623 139.5,625 147.5,616 155.5,627 163.5,635 171.5,643 179.5,641 187.5,645 195.5,637 203.5,631 211.5,645 219.5,643 227.5,644 235.5,634 243.5,629 251.5,629 259.5,633 267.5,634 275.5,645 283.5,632 291.5,617 299.5,623 307.5,633 315.5,631 323.5,628 331.5,627 339.5,620 347.5,617 355.5,617 363.5,624 371.5,644 379.5,644 387.5,644 395.5,660 403.5,665 411.5,658 419.5,649 427.5,641 435.5,641 443.5,634 451.5,633 459.5,649 467.5,642 475.5,633 483.5,642 491.5,643 499.5,642 507.5,654 515.5,644 523.5,639 531.5,628 539.5,636 547.5,635 555.5,635 563.5,627 571.5,621 579.5,613 587.5,613 595.5,611 603.5,625 611.5,622 619.5,619 627.5,630 635.5,627 643.5,623 651.5,618 659.5,615 667.5,617 675.5,638 683.5,635 691.5,623 699.5,617 707.5,618 715.5,621 723.5,614 731.5,611 739.5,609 747.5,613 755.5,611 763.5,618 771.5,613 779.5,611 787.5,623 795.5,618 803.5,620 811.5,614 819.5,609 827.5,620 835.5,616 843.5,613 851.5,632 859.5,632 867.5,652 875.5,653 883.5,650 891.5,651 899.5,660 907.5,658 915.5,654 923.5,642 931.5,644 939.5,648 947.5,655 955.5,646 963.5,646 971.5,643 979.5,627 987.5,624 995.5,616 1003.5,627 1011.5,640 1019.5,643 1027.5,639 1035.5,635 1043.5,641 1051.5,646 1059.5,636 1067.5,635 1075.5,632" fill="none" stroke="#1e90ff" stroke-width="2" stroke-linejoin="round" shape-rendering="crispEdges"/>
<polyline points="3.5,639 11.5,637 19.5,636 27.5,636 35.5,638 43.5,638 51.5,639 59.5,635 67.5,633 75.5,632 83.5,628 91.5,625 99.5,622 107.5,621 115.5,622 123.5,622 131.5,622 139.5,623 147.5,621 155.5,623 163.5,626 171.5,630 179.5,633 187.5,636 195.5,636 203.5,635 211.5,637 219.5,639 227.5,640 235.5,639 243.5,636 251.5,634 259.5,634 267.5,634 275.5,637 283.5,636 291.5,631 299.5,629 307.5,630 315.5,630 323.5,630 331.5,629 339.5,627 347.5,624 355.5,622 363.5,623 371.5,628 379.5,632 387.5,635 395.5,641 403.5,647 411.5,650 419.5,650 427.5,648 435.5,646 443.5,643 451.5,640 459.5,642 467.5,642 475.5,640 483.5,641 491.5,641 499.5,641 507.5,645 515.5,644 523.5,643 531.5,639 539.5,638 547.5,638 555.5,637 563.5,635 571.5,631 579.5,627 587.5,623 595.5,620 603.5,621 611.5,621 619.5,621 627.5,623 635.5,624 643.5,624 651.5,622 659.5,621 667.5,620 675.5,624 683.5,627 691.5,626 699.5,624 707.5,622 715.5,622 723.5,620 731.5,618 739.5,615 747.5,615 755.5,614 763.5,615 771.5,614 779.5,614 787.5,616 795.5,617 803.5,617 811.5,616 819.5,614 827.5,616 835.5,616 843.5,615 851.5,619 859.5,623 867.5,630 875.5,636 883.5,639 891.5,642 899.5,647 907.5,650 915.5,651 923.5,648 931.5,647 939.5,648 947.5,649 955.5,649 963.5,648 971.5,647 979.5,642 987.5,637 995.5,632 1003.5,631 1011.5,633 1019.5,635 1027.5,636 1035.5,636 1043.5,637 1051.5,640 1059.5,639 1067.5,638 1075.5,637" fill="none" stroke="#d2691e" stroke-width="2" stroke-linejoin="round" shape-rendering="crispEdges"/>
<polyline points="3.5,719 11.5,717 19.5,717 27.5,729 35.5,732 43.5,732 51.5,737 59.5,706 67.5,706 75.5,712 83.5,706 91.5,708 99.5,710 107.5,716 115.5,723 123.5,728 131.5,728 139.5,730 147.5,726 155.5,727 163.5,733 171.5,743 179.5,743 187.5,761 195.5,752 203.5,730 211.5,749 219.5,760 227.5,747 235.5,739 243.5,722 251.5,723 259.5,727 267.5,729 275.5,735 283.5,724 291.5,696 299.5,696 307.5,718 315.5,725 323.5,726 331.5,724 339.5,722 347.5,717 355.5,718 363.5,724 371.5,735 379.5,743 387.5,745 395.5,768 403.5,778 411.5,769 419.5,759 427.5,749 435.5,746 443.5,739 451.5,737 459.5,744 467.5,742 475.5,726 483.5,729 491.5,736 499.5,733 507.5,746 515.5,751 523.5,738 531.5,712 539.5,712 547.5,721 555.5,729 563.5,716 571.5,708 579.5,699 587.5,706 595.5,711 603.5,721 611.5,723 619.5,724 627.5,728 635.5,729 643.5,726 651.5,720 659.5,715 667.5,714 675.5,730 683.5,735 691.5,719 699.5,706 707.5,711 715.5,718 723.5,714 731.5,711 739.5,711 747.5,717 755.5,717 763.5,723 771.5,722 779.5,721 787.5,726 795.5,722 803.5,718 811.5,718 819.5,713 827.5,715 835.5,714 843.5,713 851.5,724 859.5,730 867.5,745 875.5,756 883.5,756 891.5,756 899.5,765 907.5,767 915.5,758 923.5,751 931.5,748 939.5,749 947.5,755 955.5,752 963.5,745 971.5,740 979.5,706 987.5,699 995.5,697 1003.5,709 1011.5,726 1019.5,735 1027.5,736 1035.5,730 1043.5,735 1051.5,745 1059.5,737 1067.5,734 1075.5,730" fill="none" stroke="#20b2aa" stroke-width="2" stroke-linejoin="round" shape-rendering="crispEdges"/>
<polyline points="3.5,742 11.5,739 19.5,738 27.5,737 35.5,736 43.5,734 51.5,733 59.5,731 67.5,728 75.5,724 83.5,721 91.5,717 99.5,717 107.5,718 115.5,718 123.5,719 131.5,720 139.5,720 147.5,719 155.5,719 163.5,719 171.5,721 179.5,724 187.5,727 195.5,731 203.5,732 211.5,735 219.5,738 227.5,740 235.5,741 243.5,740 251.5,740 259.5,740 267.5,740 275.5,740 283.5,739 291.5,735 299.5,731 307.5,728 315.5,728 323.5,726 331.5,724 339.5,722 347.5,720 355.5,720 363.5,720 371.5,721 379.5,722 387.5,722 395.5,725 403.5,731 411.5,737 419.5,739 427.5,741 435.5,743 443.5,744 451.5,745 459.5,747 467.5,749 475.5,749 483.5,748 491.5,748 499.5,747 507.5,745 515.5,743 523.5,741 531.5,738 539.5,735 547.5,733 555.5,733 563.5,731 571.5,729 579.5,725 587.5,724 595.5,723 603.5,722 611.5,721 619.5,719 627.5,718 635.5,717 643.5,718 651.5,719 659.5,718 667.5,717 675.5,718 683.5,720 691.5,722 699.5,721 707.5,721 715.5,721 723.5,721 731.5,720 739.5,719 747.5,718 755.5,717 763.5,717 771.5,718 779.5,718 787.5,718 795.5,717 803.5,717 811.5,718 819.5,718 827.5,718 835.5,718 843.5,718 851.5,719 859.5,720 867.5,722 875.5,724 883.5,726 891.5,729 899.5,732 907.5,735 915.5,738 923.5,740 931.5,743 939.5,745 947.5,748 955.5,751 963.5,752 971.5,753 979.5,750 987.5,746 995.5,742 1003.5,739 1011.5,736 1019.5,734 1027.5,732 1035.5,731 1043.5,730 1051.5,729 1059.5,728 1067.5,727 1075.5,726" fill="none" stroke="#ff0000" stroke-width="2" stroke-linejoin="round" shape-rendering="crispEdges"/>
<text x="7" y="509" fill="#000" stroke="#000" stroke-width="0.3" textLength="70" lengthAdjust="spacingAndGlyphs">Stoch(5,3,3)</text>
<text x="82.3" y="509" fill="#000" stroke="#000" stroke-width="0.3" textLength="45" lengthAdjust="spacingAndGlyphs">79.2360</text>
<text x="132.3" y="509" fill="#000" stroke="#000" stroke-width="0.3" textLength="45" lengthAdjust="spacingAndGlyphs">64.4395</text>
<text x="7.3" y="613" fill="#000" stroke="#000" stroke-width="0.3" textLength="34" lengthAdjust="spacingAndGlyphs">RSI(7)</text>
<text x="46.3" y="613" fill="#000" stroke="#000" stroke-width="0.3" textLength="45" lengthAdjust="spacingAndGlyphs">62.3390</text>
<text x="100" y="613" fill="#000" stroke="#000" stroke-width="0.3" textLength="46" lengthAdjust="spacingAndGlyphs">-&gt;MA(7)</text>
<text x="151" y="613" fill="#000" stroke="#000" stroke-width="0.3" textLength="45" lengthAdjust="spacingAndGlyphs">57.7163</text>
<text x="7.3" y="706" fill="#000" stroke="#000" stroke-width="0.3" textLength="41.5" lengthAdjust="spacingAndGlyphs">CCI(14)</text>
<text x="53" y="706" fill="#000" stroke="#000" stroke-width="0.3" textLength="45" lengthAdjust="spacingAndGlyphs">66.7874</text>
<text x="107" y="706" fill="#000" stroke="#000" stroke-width="0.3" textLength="53.5" lengthAdjust="spacingAndGlyphs">-&gt;MA(14)</text>
<text x="165" y="706" fill="#000" stroke="#000" stroke-width="0.3" textLength="45" lengthAdjust="spacingAndGlyphs">88.3178</text>
<text x="1363.9" y="507" fill="#000" stroke="#000" stroke-width="0.3">100</text>
<text x="1363.5" y="519" fill="#000" stroke="#000" stroke-width="0.3">80</text>
<text x="1363.5" y="579" fill="#000" stroke="#000" stroke-width="0.3">20</text>
<text x="1364.7" y="592" fill="#000" stroke="#000" stroke-width="0.3">0</text>
<text x="1363.9" y="611" fill="#000" stroke="#000" stroke-width="0.3">100</text>
<text x="1363.5" y="630" fill="#000" stroke="#000" stroke-width="0.3">70</text>
<text x="1363.5" y="666" fill="#000" stroke="#000" stroke-width="0.3">30</text>
<text x="1364.7" y="685" fill="#000" stroke="#000" stroke-width="0.3">0</text>
<text x="1364.0" y="704" fill="#000" stroke="#000" stroke-width="0.3">272.7911</text>
<text x="1363.9" y="728" fill="#000" stroke="#000" stroke-width="0.3">100</text>
<text x="1364.5" y="747" fill="#000" stroke="#000" stroke-width="0.3">0.00</text>
<text x="1363.8" y="765" fill="#000" stroke="#000" stroke-width="0.3">-100</text>
<text x="1364.5" y="779" fill="#000" stroke="#000" stroke-width="0.3">-217.9019</text>
<rect x="1361" y="495" width="1" height="1" fill="#000"/>
<rect x="1361" y="594" width="1" height="1" fill="#000"/>
<rect x="1361" y="599" width="1" height="1" fill="#000"/>
<rect x="1361" y="687" width="1" height="1" fill="#000"/>
<rect x="1361" y="692" width="1" height="1" fill="#000"/>
<rect x="1361" y="742" width="1" height="1" fill="#000"/>
<rect x="1361" y="781" width="1" height="1" fill="#000"/>
<rect x="3" y="783" width="1" height="3" fill="#000"/>
<text x="2.3" y="798" fill="#000" stroke="#000" stroke-width="0.3">22 May 2025</text>
<rect x="99" y="783" width="1" height="3" fill="#000"/>
<text x="98.3" y="798" fill="#000" stroke="#000" stroke-width="0.3">9 Jun 2025</text>
<rect x="195" y="783" width="1" height="3" fill="#000"/>
<text x="194.3" y="798" fill="#000" stroke="#000" stroke-width="0.3">25 Jun 2025</text>
<rect x="291" y="783" width="1" height="3" fill="#000"/>
<text x="290.3" y="798" fill="#000" stroke="#000" stroke-width="0.3">11 Jul 2025</text>
<rect x="387" y="783" width="1" height="3" fill="#000"/>
<text x="386.3" y="798" fill="#000" stroke="#000" stroke-width="0.3">29 Jul 2025</text>
<rect x="483" y="783" width="1" height="3" fill="#000"/>
<text x="482.3" y="798" fill="#000" stroke="#000" stroke-width="0.3">14 Aug 2025</text>
<rect x="579" y="783" width="1" height="3" fill="#000"/>
<text x="578.3" y="798" fill="#000" stroke="#000" stroke-width="0.3">1 Sep 2025</text>
<rect x="675" y="783" width="1" height="3" fill="#000"/>
<text x="674.3" y="798" fill="#000" stroke="#000" stroke-width="0.3">17 Sep 2025</text>
<rect x="771" y="783" width="1" height="3" fill="#000"/>
<text x="770.3" y="798" fill="#000" stroke="#000" stroke-width="0.3">3 Oct 2025</text>
<rect x="867" y="783" width="1" height="3" fill="#000"/>
<text x="866.3" y="798" fill="#000" stroke="#000" stroke-width="0.3">21 Oct 2025</text>
<rect x="963" y="783" width="1" height="3" fill="#000"/>
<text x="962.3" y="798" fill="#000" stroke="#000" stroke-width="0.3">6 Nov 2025</text>
<rect x="1059" y="783" width="1" height="3" fill="#000"/>
<text x="1058.3" y="798" fill="#000" stroke="#000" stroke-width="0.3">24 Nov 2025</text>
</svg>
</body></html>
